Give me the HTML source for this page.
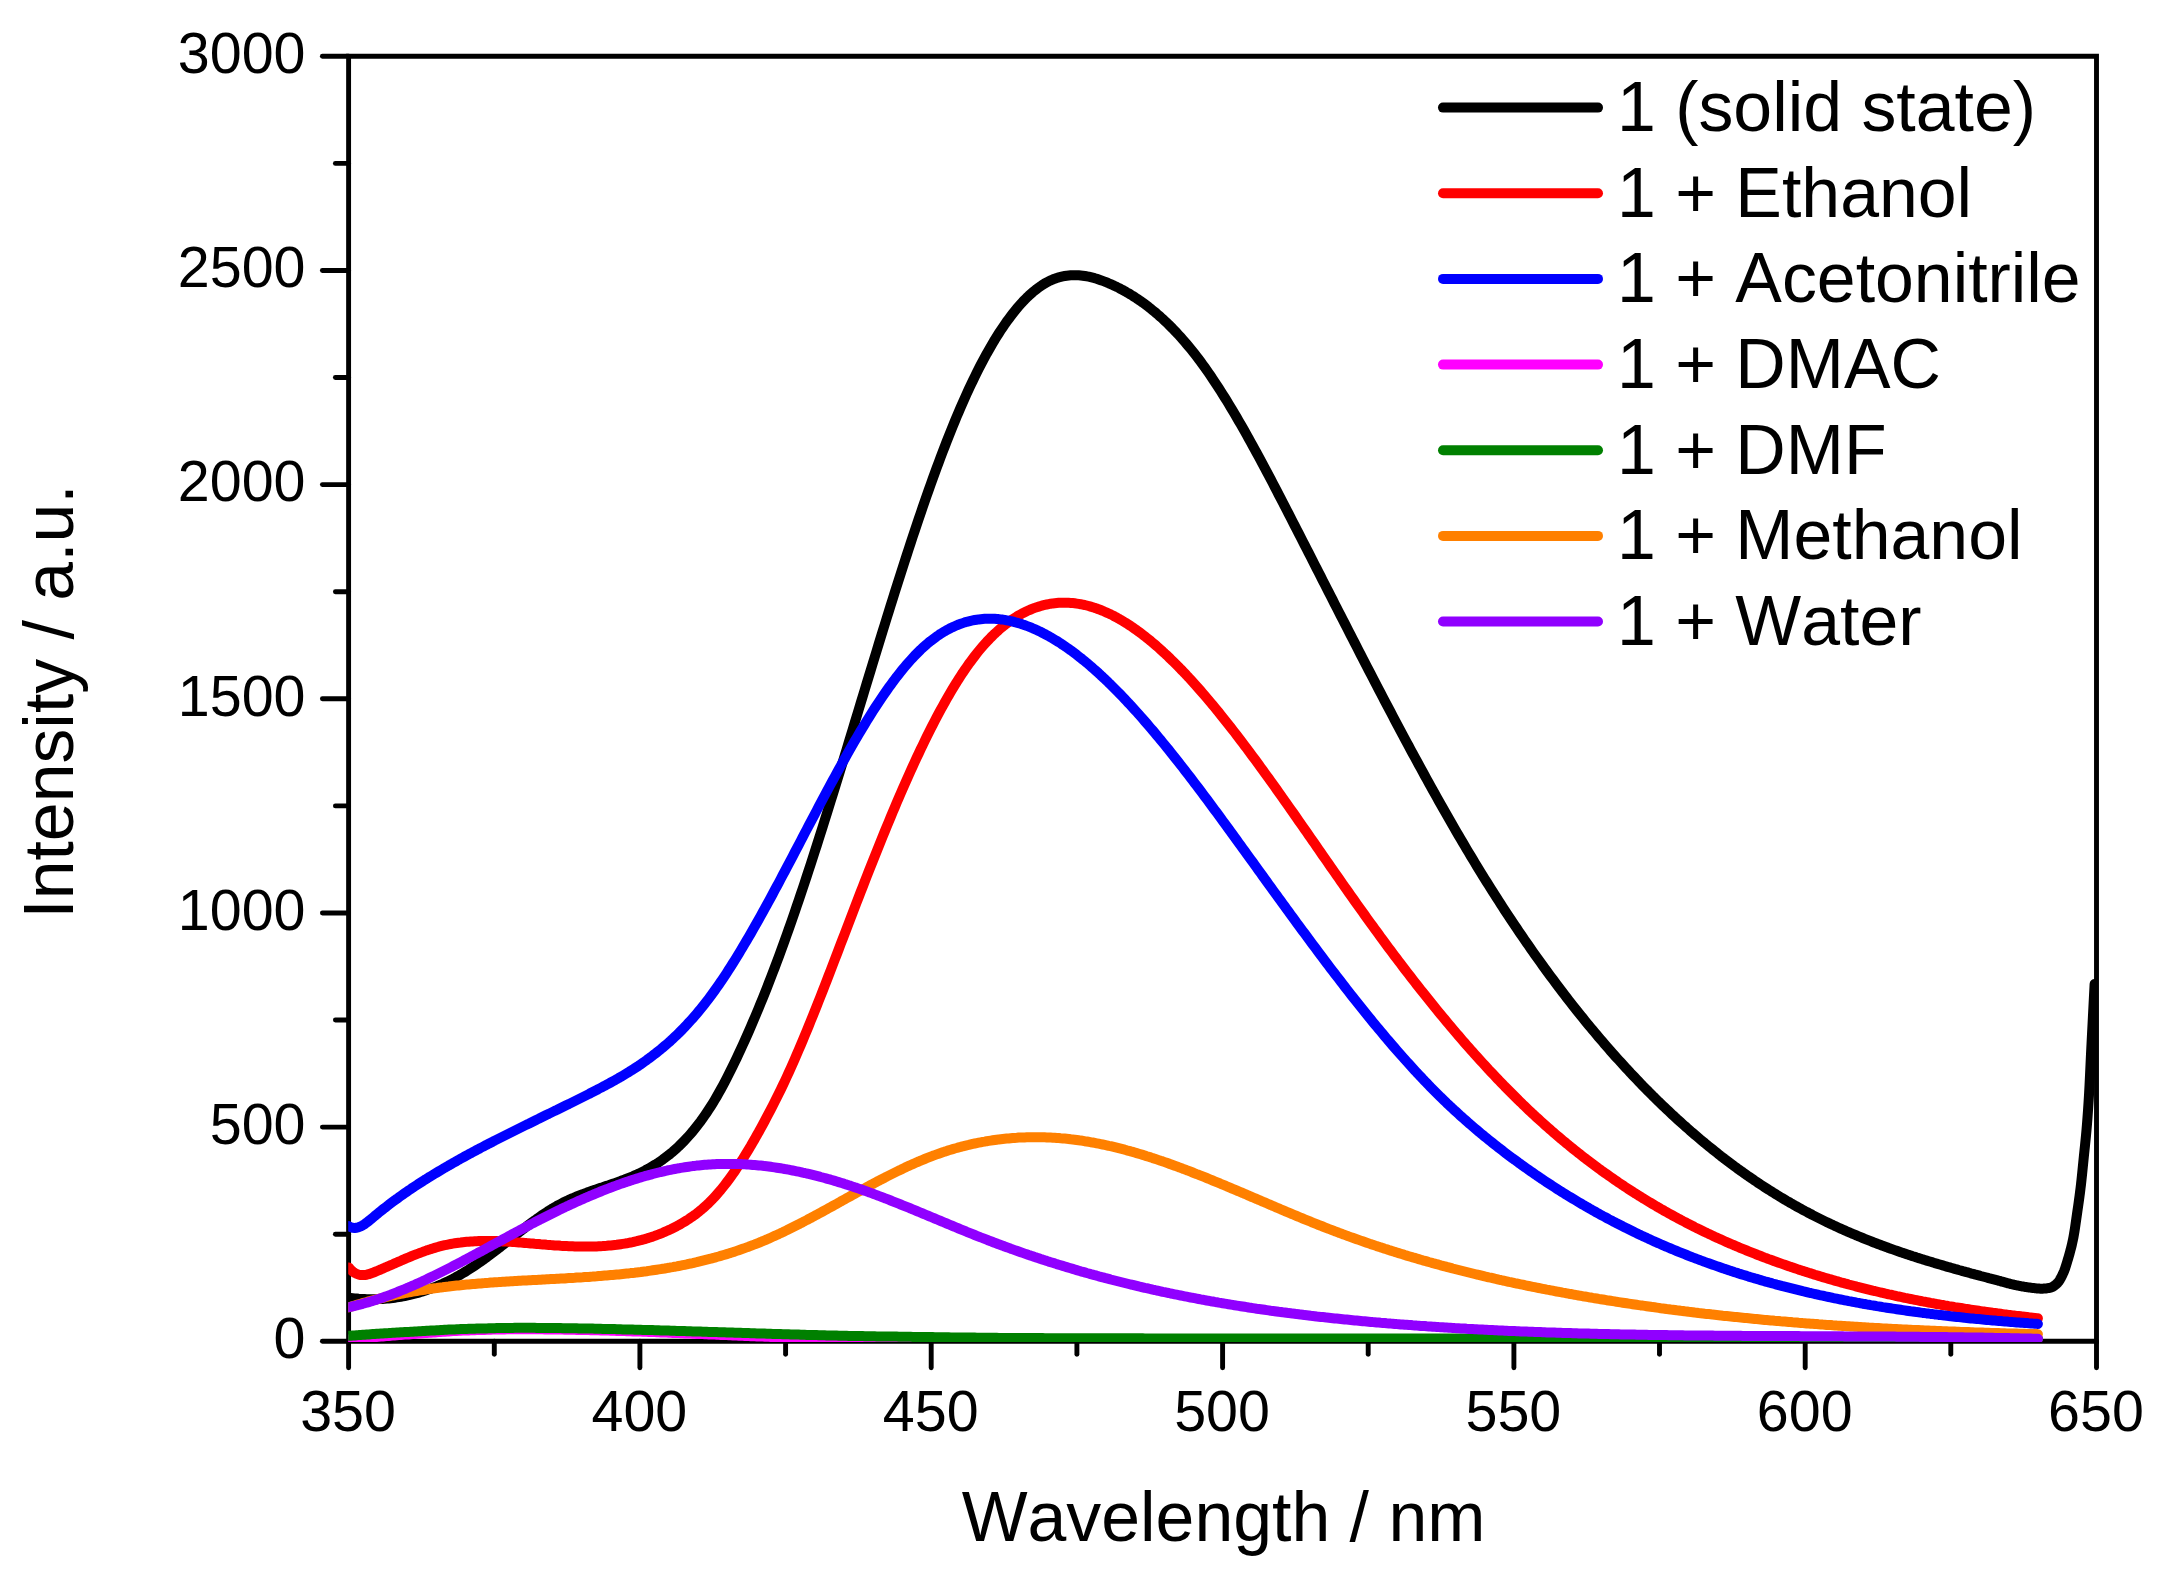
<!DOCTYPE html>
<html lang="en"><head><meta charset="utf-8"><title>Emission spectra</title>
<style>html,body{margin:0;padding:0;background:#fff}svg{display:block}text{font-family:"Liberation Sans",Arial,Helvetica,sans-serif;fill:#000;font-kerning:none}</style></head>
<body>
<svg width="2158" height="1580" viewBox="0 0 2158 1580">
<rect width="2158" height="1580" fill="#fff"/>
<g stroke="#000" stroke-width="4.9" stroke-linecap="round" fill="none">
<path d="M348.6 56.3 L2096.5 56.3 L2096.5 1341.3 L348.6 1341.3 Z" stroke-linejoin="miter"/>
<line x1="348.6" y1="1341.3" x2="322.4" y2="1341.3"/>
<line x1="348.6" y1="1234.2" x2="335.4" y2="1234.2"/>
<line x1="348.6" y1="1127.1" x2="322.4" y2="1127.1"/>
<line x1="348.6" y1="1020.0" x2="335.4" y2="1020.0"/>
<line x1="348.6" y1="913.0" x2="322.4" y2="913.0"/>
<line x1="348.6" y1="805.9" x2="335.4" y2="805.9"/>
<line x1="348.6" y1="698.8" x2="322.4" y2="698.8"/>
<line x1="348.6" y1="591.7" x2="335.4" y2="591.7"/>
<line x1="348.6" y1="484.6" x2="322.4" y2="484.6"/>
<line x1="348.6" y1="377.5" x2="335.4" y2="377.5"/>
<line x1="348.6" y1="270.5" x2="322.4" y2="270.5"/>
<line x1="348.6" y1="163.4" x2="335.4" y2="163.4"/>
<line x1="348.6" y1="56.3" x2="322.4" y2="56.3"/>
<line x1="348.6" y1="1341.3" x2="348.6" y2="1367.8"/>
<line x1="494.3" y1="1341.3" x2="494.3" y2="1354.3"/>
<line x1="639.9" y1="1341.3" x2="639.9" y2="1367.8"/>
<line x1="785.6" y1="1341.3" x2="785.6" y2="1354.3"/>
<line x1="931.2" y1="1341.3" x2="931.2" y2="1367.8"/>
<line x1="1076.9" y1="1341.3" x2="1076.9" y2="1354.3"/>
<line x1="1222.6" y1="1341.3" x2="1222.6" y2="1367.8"/>
<line x1="1368.2" y1="1341.3" x2="1368.2" y2="1354.3"/>
<line x1="1513.9" y1="1341.3" x2="1513.9" y2="1367.8"/>
<line x1="1659.5" y1="1341.3" x2="1659.5" y2="1354.3"/>
<line x1="1805.2" y1="1341.3" x2="1805.2" y2="1367.8"/>
<line x1="1950.8" y1="1341.3" x2="1950.8" y2="1354.3"/>
<line x1="2096.5" y1="1341.3" x2="2096.5" y2="1367.8"/>
</g>
<defs><clipPath id="plotclip"><rect x="348.2" y="55.7" width="1748.8" height="1286.3"/></clipPath></defs>
<g fill="none" stroke-width="10" stroke-linecap="round" stroke-linejoin="round" clip-path="url(#plotclip)">
<path stroke="#000000" d="M348.7 1297.8 L350.7 1298.0 L352.7 1298.2 L354.7 1298.4 L356.7 1298.6 L358.7 1298.8 L360.7 1298.9 L362.7 1299.0 L364.7 1299.1 L366.7 1299.2 L368.7 1299.2 L370.7 1299.2 L372.7 1299.2 L374.7 1299.2 L376.7 1299.2 L378.7 1299.1 L380.7 1299.0 L382.7 1298.9 L384.7 1298.8 L386.7 1298.6 L388.7 1298.4 L390.7 1298.2 L392.7 1298.0 L394.7 1297.7 L396.7 1297.4 L398.7 1297.1 L400.7 1296.8 L402.7 1296.4 L404.7 1296.0 L406.7 1295.6 L408.7 1295.2 L410.7 1294.7 L412.7 1294.2 L414.7 1293.7 L416.7 1293.2 L418.7 1292.6 L420.7 1292.0 L422.7 1291.4 L424.7 1290.8 L426.7 1290.1 L428.7 1289.4 L430.7 1288.7 L432.7 1287.9 L434.7 1287.1 L436.7 1286.3 L438.7 1285.5 L440.7 1284.6 L442.7 1283.8 L444.7 1282.8 L446.7 1281.9 L448.7 1280.9 L450.7 1279.9 L452.7 1278.9 L454.7 1277.8 L456.7 1276.7 L458.7 1275.6 L460.7 1274.5 L462.7 1273.3 L464.7 1272.1 L466.7 1270.9 L468.7 1269.6 L470.7 1268.3 L472.7 1267.0 L474.7 1265.7 L476.7 1264.4 L478.7 1263.0 L480.7 1261.6 L482.7 1260.2 L484.7 1258.7 L486.7 1257.3 L488.7 1255.8 L490.7 1254.3 L492.7 1252.8 L494.7 1251.3 L496.7 1249.8 L498.7 1248.2 L500.7 1246.7 L502.7 1245.1 L504.7 1243.5 L506.7 1242.0 L508.7 1240.4 L510.7 1238.8 L512.7 1237.2 L514.7 1235.7 L516.7 1234.1 L518.7 1232.5 L520.7 1231.0 L522.7 1229.4 L524.7 1227.9 L526.7 1226.3 L528.7 1224.8 L530.7 1223.3 L532.7 1221.8 L534.7 1220.4 L536.7 1218.9 L538.7 1217.5 L540.7 1216.1 L542.7 1214.7 L544.7 1213.4 L546.7 1212.1 L548.7 1210.8 L550.7 1209.6 L552.7 1208.3 L554.7 1207.2 L556.7 1206.0 L558.7 1204.9 L560.7 1203.9 L562.7 1202.8 L564.7 1201.8 L566.7 1200.9 L568.7 1199.9 L570.7 1199.0 L572.7 1198.2 L574.7 1197.3 L576.7 1196.5 L578.7 1195.7 L580.7 1194.9 L582.7 1194.1 L584.7 1193.4 L586.7 1192.7 L588.7 1191.9 L590.7 1191.2 L592.7 1190.5 L594.7 1189.9 L596.7 1189.2 L598.7 1188.5 L600.7 1187.8 L602.7 1187.2 L604.7 1186.5 L606.7 1185.8 L608.7 1185.2 L610.7 1184.5 L612.7 1183.8 L614.7 1183.1 L616.7 1182.4 L618.7 1181.7 L620.7 1181.0 L622.7 1180.2 L624.7 1179.5 L626.7 1178.7 L628.7 1177.9 L630.7 1177.1 L632.7 1176.3 L634.7 1175.4 L636.7 1174.5 L638.7 1173.6 L640.7 1172.6 L642.7 1171.6 L644.7 1170.6 L646.7 1169.5 L648.7 1168.5 L650.7 1167.3 L652.7 1166.1 L654.7 1164.9 L656.7 1163.7 L658.7 1162.4 L660.7 1161.0 L662.7 1159.6 L664.7 1158.1 L666.7 1156.6 L668.7 1155.1 L670.7 1153.4 L672.7 1151.8 L674.7 1150.0 L676.7 1148.2 L678.7 1146.4 L680.7 1144.4 L682.7 1142.4 L684.7 1140.4 L686.7 1138.2 L688.7 1136.0 L690.7 1133.7 L692.7 1131.4 L694.7 1128.9 L696.7 1126.4 L698.7 1123.8 L700.7 1121.2 L702.7 1118.4 L704.7 1115.5 L706.7 1112.6 L708.7 1109.6 L710.7 1106.5 L712.7 1103.3 L714.7 1100.0 L716.7 1096.6 L718.7 1093.1 L720.7 1089.5 L722.7 1085.8 L724.7 1082.1 L726.7 1078.2 L728.7 1074.3 L730.7 1070.3 L732.7 1066.3 L734.7 1062.1 L736.7 1058.0 L738.7 1053.7 L740.7 1049.4 L742.7 1045.0 L744.7 1040.6 L746.7 1036.1 L748.7 1031.6 L750.7 1027.0 L752.7 1022.3 L754.7 1017.6 L756.7 1012.9 L758.7 1008.1 L760.7 1003.2 L762.7 998.3 L764.7 993.3 L766.7 988.3 L768.7 983.2 L770.7 978.0 L772.7 972.8 L774.7 967.6 L776.7 962.3 L778.7 956.9 L780.7 951.5 L782.7 946.0 L784.7 940.5 L786.7 934.9 L788.7 929.3 L790.7 923.6 L792.7 917.9 L794.7 912.1 L796.7 906.2 L798.7 900.4 L800.7 894.4 L802.7 888.5 L804.7 882.5 L806.7 876.4 L808.7 870.3 L810.7 864.2 L812.7 858.0 L814.7 851.8 L816.7 845.6 L818.7 839.3 L820.7 833.0 L822.7 826.7 L824.7 820.3 L826.7 813.9 L828.7 807.5 L830.7 801.1 L832.7 794.7 L834.7 788.2 L836.7 781.7 L838.7 775.2 L840.7 768.7 L842.7 762.2 L844.7 755.6 L846.7 749.1 L848.7 742.5 L850.7 735.9 L852.7 729.4 L854.7 722.8 L856.7 716.2 L858.7 709.6 L860.7 703.0 L862.7 696.5 L864.7 689.9 L866.7 683.3 L868.7 676.7 L870.7 670.2 L872.7 663.6 L874.7 657.1 L876.7 650.6 L878.7 644.0 L880.7 637.5 L882.7 631.1 L884.7 624.6 L886.7 618.1 L888.7 611.7 L890.7 605.3 L892.7 598.9 L894.7 592.6 L896.7 586.3 L898.7 580.0 L900.7 573.7 L902.7 567.5 L904.7 561.3 L906.7 555.1 L908.7 549.0 L910.7 542.9 L912.7 536.8 L914.7 530.8 L916.7 524.9 L918.7 518.9 L920.7 513.1 L922.7 507.2 L924.7 501.4 L926.7 495.7 L928.7 490.0 L930.7 484.4 L932.7 478.8 L934.7 473.3 L936.7 467.8 L938.7 462.4 L940.7 457.1 L942.7 451.8 L944.7 446.6 L946.7 441.4 L948.7 436.3 L950.7 431.3 L952.7 426.4 L954.7 421.5 L956.7 416.7 L958.7 412.0 L960.7 407.3 L962.7 402.7 L964.7 398.2 L966.7 393.8 L968.7 389.4 L970.7 385.2 L972.7 381.0 L974.7 376.8 L976.7 372.8 L978.7 368.8 L980.7 364.9 L982.7 361.1 L984.7 357.4 L986.7 353.7 L988.7 350.2 L990.7 346.7 L992.7 343.3 L994.7 339.9 L996.7 336.7 L998.7 333.5 L1000.7 330.4 L1002.7 327.4 L1004.7 324.5 L1006.7 321.6 L1008.7 318.9 L1010.7 316.2 L1012.7 313.6 L1014.7 311.1 L1016.7 308.6 L1018.7 306.3 L1020.7 304.0 L1022.7 301.8 L1024.7 299.7 L1026.7 297.7 L1028.7 295.8 L1030.7 294.0 L1032.7 292.2 L1034.7 290.6 L1036.7 289.0 L1038.7 287.5 L1040.7 286.1 L1042.7 284.8 L1044.7 283.5 L1046.7 282.4 L1048.7 281.3 L1050.7 280.4 L1052.7 279.5 L1054.7 278.7 L1056.7 278.0 L1058.7 277.4 L1060.7 276.9 L1062.7 276.4 L1064.7 276.0 L1066.7 275.7 L1068.7 275.5 L1070.7 275.3 L1072.7 275.2 L1074.7 275.2 L1076.7 275.2 L1078.7 275.3 L1080.7 275.5 L1082.7 275.7 L1084.7 276.0 L1086.7 276.3 L1088.7 276.7 L1090.7 277.2 L1092.7 277.7 L1094.7 278.2 L1096.7 278.8 L1098.7 279.5 L1100.7 280.2 L1102.7 280.9 L1104.7 281.6 L1106.7 282.4 L1108.7 283.3 L1110.7 284.1 L1112.7 285.0 L1114.7 286.0 L1116.7 286.9 L1118.7 287.9 L1120.7 289.0 L1122.7 290.0 L1124.7 291.1 L1126.7 292.3 L1128.7 293.4 L1130.7 294.6 L1132.7 295.9 L1134.7 297.1 L1136.7 298.5 L1138.7 299.8 L1140.7 301.2 L1142.7 302.6 L1144.7 304.1 L1146.7 305.6 L1148.7 307.1 L1150.7 308.7 L1152.7 310.3 L1154.7 311.9 L1156.7 313.6 L1158.7 315.4 L1160.7 317.1 L1162.7 318.9 L1164.7 320.8 L1166.7 322.7 L1168.7 324.6 L1170.7 326.6 L1172.7 328.6 L1174.7 330.7 L1176.7 332.8 L1178.7 335.0 L1180.7 337.2 L1182.7 339.5 L1184.7 341.8 L1186.7 344.1 L1188.7 346.5 L1190.7 348.9 L1192.7 351.4 L1194.7 353.9 L1196.7 356.5 L1198.7 359.1 L1200.7 361.8 L1202.7 364.6 L1204.7 367.3 L1206.7 370.1 L1208.7 373.0 L1210.7 375.9 L1212.7 378.9 L1214.7 381.9 L1216.7 384.9 L1218.7 388.0 L1220.7 391.1 L1222.7 394.3 L1224.7 397.5 L1226.7 400.7 L1228.7 404.0 L1230.7 407.3 L1232.7 410.6 L1234.7 414.0 L1236.7 417.4 L1238.7 420.9 L1240.7 424.3 L1242.7 427.8 L1244.7 431.3 L1246.7 434.9 L1248.7 438.5 L1250.7 442.1 L1252.7 445.7 L1254.7 449.4 L1256.7 453.0 L1258.7 456.7 L1260.7 460.4 L1262.7 464.2 L1264.7 467.9 L1266.7 471.7 L1268.7 475.4 L1270.7 479.2 L1272.7 483.0 L1274.7 486.9 L1276.7 490.7 L1278.7 494.6 L1280.7 498.4 L1282.7 502.3 L1284.7 506.1 L1286.7 510.0 L1288.7 513.9 L1290.7 517.8 L1292.7 521.7 L1294.7 525.6 L1296.7 529.5 L1298.7 533.4 L1300.7 537.3 L1302.7 541.2 L1304.7 545.1 L1306.7 549.0 L1308.7 552.9 L1310.7 556.8 L1312.7 560.8 L1314.7 564.7 L1316.7 568.6 L1318.7 572.5 L1320.7 576.4 L1322.7 580.4 L1324.7 584.3 L1326.7 588.2 L1328.7 592.1 L1330.7 596.0 L1332.7 599.9 L1334.7 603.9 L1336.7 607.8 L1338.7 611.7 L1340.7 615.6 L1342.7 619.5 L1344.7 623.4 L1346.7 627.3 L1348.7 631.2 L1350.7 635.1 L1352.7 639.0 L1354.7 642.9 L1356.7 646.8 L1358.7 650.7 L1360.7 654.6 L1362.7 658.5 L1364.7 662.3 L1366.7 666.2 L1368.7 670.1 L1370.7 673.9 L1372.7 677.8 L1374.7 681.6 L1376.7 685.5 L1378.7 689.3 L1380.7 693.1 L1382.7 697.0 L1384.7 700.8 L1386.7 704.6 L1388.7 708.4 L1390.7 712.2 L1392.7 716.0 L1394.7 719.8 L1396.7 723.6 L1398.7 727.3 L1400.7 731.1 L1402.7 734.8 L1404.7 738.6 L1406.7 742.3 L1408.7 746.0 L1410.7 749.8 L1412.7 753.5 L1414.7 757.2 L1416.7 760.8 L1418.7 764.5 L1420.7 768.2 L1422.7 771.8 L1424.7 775.5 L1426.7 779.1 L1428.7 782.7 L1430.7 786.4 L1432.7 790.0 L1434.7 793.5 L1436.7 797.1 L1438.7 800.7 L1440.7 804.2 L1442.7 807.8 L1444.7 811.3 L1446.7 814.8 L1448.7 818.3 L1450.7 821.8 L1452.7 825.3 L1454.7 828.7 L1456.7 832.2 L1458.7 835.6 L1460.7 839.0 L1462.7 842.4 L1464.7 845.8 L1466.7 849.2 L1468.7 852.5 L1470.7 855.9 L1472.7 859.2 L1474.7 862.5 L1476.7 865.8 L1478.7 869.1 L1480.7 872.3 L1482.7 875.6 L1484.7 878.8 L1486.7 882.0 L1488.7 885.2 L1490.7 888.4 L1492.7 891.5 L1494.7 894.7 L1496.7 897.8 L1498.7 900.9 L1500.7 904.0 L1502.7 907.1 L1504.7 910.2 L1506.7 913.2 L1508.7 916.2 L1510.7 919.3 L1512.7 922.3 L1514.7 925.3 L1516.7 928.2 L1518.7 931.2 L1520.7 934.1 L1522.7 937.1 L1524.7 940.0 L1526.7 942.9 L1528.7 945.7 L1530.7 948.6 L1532.7 951.5 L1534.7 954.3 L1536.7 957.1 L1538.7 959.9 L1540.7 962.7 L1542.7 965.5 L1544.7 968.2 L1546.7 971.0 L1548.7 973.7 L1550.7 976.4 L1552.7 979.1 L1554.7 981.8 L1556.7 984.5 L1558.7 987.1 L1560.7 989.8 L1562.7 992.4 L1564.7 995.0 L1566.7 997.6 L1568.7 1000.2 L1570.7 1002.8 L1572.7 1005.3 L1574.7 1007.8 L1576.7 1010.4 L1578.7 1012.9 L1580.7 1015.4 L1582.7 1017.8 L1584.7 1020.3 L1586.7 1022.8 L1588.7 1025.2 L1590.7 1027.6 L1592.7 1030.0 L1594.7 1032.4 L1596.7 1034.8 L1598.7 1037.2 L1600.7 1039.5 L1602.7 1041.8 L1604.7 1044.2 L1606.7 1046.5 L1608.7 1048.8 L1610.7 1051.1 L1612.7 1053.3 L1614.7 1055.6 L1616.7 1057.8 L1618.7 1060.0 L1620.7 1062.2 L1622.7 1064.4 L1624.7 1066.6 L1626.7 1068.8 L1628.7 1070.9 L1630.7 1073.1 L1632.7 1075.2 L1634.7 1077.3 L1636.7 1079.4 L1638.7 1081.5 L1640.7 1083.6 L1642.7 1085.7 L1644.7 1087.7 L1646.7 1089.7 L1648.7 1091.8 L1650.7 1093.8 L1652.7 1095.8 L1654.7 1097.7 L1656.7 1099.7 L1658.7 1101.7 L1660.7 1103.6 L1662.7 1105.5 L1664.7 1107.4 L1666.7 1109.3 L1668.7 1111.2 L1670.7 1113.1 L1672.7 1115.0 L1674.7 1116.8 L1676.7 1118.7 L1678.7 1120.5 L1680.7 1122.3 L1682.7 1124.1 L1684.7 1125.9 L1686.7 1127.6 L1688.7 1129.4 L1690.7 1131.2 L1692.7 1132.9 L1694.7 1134.6 L1696.7 1136.3 L1698.7 1138.0 L1700.7 1139.7 L1702.7 1141.4 L1704.7 1143.0 L1706.7 1144.7 L1708.7 1146.3 L1710.7 1147.9 L1712.7 1149.5 L1714.7 1151.1 L1716.7 1152.7 L1718.7 1154.3 L1720.7 1155.9 L1722.7 1157.4 L1724.7 1159.0 L1726.7 1160.5 L1728.7 1162.0 L1730.7 1163.5 L1732.7 1165.0 L1734.7 1166.5 L1736.7 1167.9 L1738.7 1169.4 L1740.7 1170.8 L1742.7 1172.2 L1744.7 1173.7 L1746.7 1175.1 L1748.7 1176.5 L1750.7 1177.8 L1752.7 1179.2 L1754.7 1180.6 L1756.7 1181.9 L1758.7 1183.3 L1760.7 1184.6 L1762.7 1185.9 L1764.7 1187.2 L1766.7 1188.5 L1768.7 1189.8 L1770.7 1191.0 L1772.7 1192.3 L1774.7 1193.5 L1776.7 1194.8 L1778.7 1196.0 L1780.7 1197.2 L1782.7 1198.4 L1784.7 1199.6 L1786.7 1200.8 L1788.7 1201.9 L1790.7 1203.1 L1792.7 1204.2 L1794.7 1205.4 L1796.7 1206.5 L1798.7 1207.6 L1800.7 1208.7 L1802.7 1209.8 L1804.7 1210.9 L1806.7 1211.9 L1808.7 1213.0 L1810.7 1214.0 L1812.7 1215.1 L1814.7 1216.1 L1816.7 1217.1 L1818.7 1218.1 L1820.7 1219.1 L1822.7 1220.1 L1824.7 1221.1 L1826.7 1222.1 L1828.7 1223.0 L1830.7 1224.0 L1832.7 1224.9 L1834.7 1225.9 L1836.7 1226.8 L1838.7 1227.7 L1840.7 1228.6 L1842.7 1229.5 L1844.7 1230.4 L1846.7 1231.3 L1848.7 1232.1 L1850.7 1233.0 L1852.7 1233.9 L1854.7 1234.7 L1856.7 1235.5 L1858.7 1236.4 L1860.7 1237.2 L1862.7 1238.0 L1864.7 1238.8 L1866.7 1239.6 L1868.7 1240.4 L1870.7 1241.2 L1872.7 1242.0 L1874.7 1242.8 L1876.7 1243.5 L1878.7 1244.3 L1880.7 1245.0 L1882.7 1245.8 L1884.7 1246.5 L1886.7 1247.2 L1888.7 1248.0 L1890.7 1248.7 L1892.7 1249.4 L1894.7 1250.1 L1896.7 1250.8 L1898.7 1251.5 L1900.7 1252.2 L1902.7 1252.9 L1904.7 1253.5 L1906.7 1254.2 L1908.7 1254.9 L1910.7 1255.5 L1912.7 1256.2 L1914.7 1256.8 L1916.7 1257.5 L1918.7 1258.1 L1920.7 1258.7 L1922.7 1259.4 L1924.7 1260.0 L1926.7 1260.6 L1928.7 1261.2 L1930.7 1261.8 L1932.7 1262.4 L1934.7 1263.1 L1936.7 1263.6 L1938.7 1264.2 L1940.7 1264.8 L1942.7 1265.4 L1944.7 1266.0 L1946.7 1266.6 L1948.7 1267.2 L1950.7 1267.7 L1952.7 1268.3 L1954.7 1268.9 L1956.7 1269.4 L1958.7 1270.0 L1960.7 1270.5 L1962.7 1271.1 L1964.7 1271.6 L1966.7 1272.2 L1968.7 1272.7 L1970.7 1273.3 L1972.7 1273.8 L1974.7 1274.4 L1976.7 1274.9 L1978.7 1275.4 L1980.7 1276.0 L1982.7 1276.5 L1984.7 1277.0 L1986.7 1277.5 L1988.7 1278.1 L1990.7 1278.6 L1992.7 1279.1 L1994.7 1279.6 L1996.0 1280.0 L1996.5 1280.1 L1997.0 1280.2 L1997.5 1280.4 L1998.0 1280.5 L1998.5 1280.6 L1999.0 1280.8 L1999.5 1280.9 L2000.0 1281.0 L2000.5 1281.2 L2001.0 1281.3 L2001.5 1281.5 L2002.0 1281.6 L2002.5 1281.7 L2003.0 1281.9 L2003.5 1282.0 L2004.0 1282.2 L2004.5 1282.3 L2005.0 1282.4 L2005.5 1282.6 L2006.0 1282.7 L2006.5 1282.9 L2007.0 1283.0 L2007.5 1283.1 L2008.0 1283.3 L2008.5 1283.4 L2009.0 1283.5 L2009.5 1283.7 L2010.0 1283.8 L2010.5 1283.9 L2011.0 1284.1 L2011.5 1284.2 L2012.0 1284.3 L2012.5 1284.4 L2013.0 1284.5 L2013.5 1284.7 L2014.0 1284.8 L2014.5 1284.9 L2015.0 1285.0 L2015.5 1285.1 L2016.0 1285.2 L2016.5 1285.3 L2017.0 1285.4 L2017.5 1285.5 L2018.0 1285.6 L2018.5 1285.7 L2019.0 1285.8 L2019.5 1285.9 L2020.0 1286.0 L2020.5 1286.1 L2021.0 1286.2 L2021.5 1286.3 L2022.0 1286.4 L2022.5 1286.5 L2023.0 1286.5 L2023.5 1286.6 L2024.0 1286.7 L2024.5 1286.8 L2025.0 1286.9 L2025.5 1287.0 L2026.0 1287.0 L2026.5 1287.1 L2027.0 1287.2 L2027.5 1287.3 L2028.0 1287.3 L2028.5 1287.4 L2029.0 1287.5 L2029.5 1287.5 L2030.0 1287.6 L2030.5 1287.7 L2031.0 1287.7 L2031.5 1287.8 L2032.0 1287.9 L2032.5 1287.9 L2033.0 1288.0 L2033.5 1288.0 L2034.0 1288.1 L2034.5 1288.2 L2035.0 1288.2 L2035.5 1288.3 L2036.0 1288.3 L2036.5 1288.4 L2037.0 1288.4 L2037.5 1288.5 L2038.0 1288.5 L2038.5 1288.6 L2039.0 1288.6 L2039.5 1288.6 L2040.0 1288.7 L2040.5 1288.7 L2041.0 1288.7 L2041.5 1288.7 L2042.0 1288.7 L2042.5 1288.7 L2043.0 1288.7 L2043.5 1288.6 L2044.0 1288.6 L2044.5 1288.6 L2045.0 1288.5 L2045.5 1288.5 L2046.0 1288.4 L2046.5 1288.4 L2047.0 1288.3 L2047.5 1288.2 L2048.0 1288.1 L2048.5 1288.1 L2049.0 1288.0 L2049.5 1287.9 L2050.0 1287.8 L2050.5 1287.7 L2051.0 1287.5 L2051.5 1287.3 L2052.0 1287.1 L2052.5 1286.9 L2053.0 1286.6 L2053.5 1286.3 L2054.0 1285.9 L2054.5 1285.6 L2055.0 1285.2 L2055.5 1284.8 L2056.0 1284.4 L2056.5 1283.9 L2057.0 1283.5 L2057.5 1283.0 L2058.0 1282.4 L2058.5 1281.8 L2059.0 1281.1 L2059.5 1280.3 L2060.0 1279.5 L2060.5 1278.6 L2061.0 1277.7 L2061.5 1276.7 L2062.0 1275.7 L2062.5 1274.7 L2063.0 1273.6 L2063.5 1272.6 L2064.0 1271.4 L2064.5 1270.1 L2065.0 1268.7 L2065.5 1267.2 L2066.0 1265.7 L2066.5 1264.1 L2067.0 1262.4 L2067.5 1260.7 L2068.0 1259.0 L2068.5 1257.3 L2069.0 1255.6 L2069.5 1253.8 L2070.0 1252.0 L2070.5 1250.1 L2071.0 1248.2 L2071.5 1246.2 L2072.0 1244.1 L2072.5 1241.8 L2073.0 1239.5 L2073.5 1237.0 L2074.0 1234.2 L2074.5 1231.1 L2075.0 1227.9 L2075.5 1224.5 L2076.0 1221.0 L2076.5 1217.5 L2077.0 1214.0 L2077.5 1210.6 L2078.0 1207.1 L2078.5 1203.6 L2079.0 1200.0 L2079.5 1196.3 L2080.0 1192.5 L2080.5 1188.5 L2081.0 1184.3 L2081.5 1179.8 L2082.0 1175.0 L2082.5 1170.1 L2083.0 1165.0 L2083.5 1160.0 L2084.0 1155.0 L2084.5 1150.2 L2085.0 1145.5 L2085.5 1140.6 L2086.0 1135.5 L2086.5 1130.0 L2087.0 1124.0 L2087.5 1117.5 L2088.0 1110.5 L2088.5 1103.0 L2089.0 1095.0 L2089.5 1085.8 L2090.0 1075.5 L2090.5 1064.7 L2091.0 1054.1 L2091.5 1044.1 L2092.0 1034.3 L2092.5 1024.7 L2093.0 1015.0 L2093.5 1005.3 L2094.0 995.6 L2094.5 985.9 L2094.6 984.0"/>
<path stroke="#ff0000" d="M348.7 1267.4 L350.7 1269.7 L352.7 1271.5 L354.7 1272.9 L356.7 1273.9 L358.7 1274.6 L360.7 1275.0 L362.7 1275.1 L364.7 1275.0 L366.7 1274.7 L368.7 1274.2 L370.7 1273.5 L372.7 1272.8 L374.7 1272.0 L376.7 1271.2 L378.7 1270.3 L380.7 1269.5 L382.7 1268.6 L384.7 1267.7 L386.7 1266.9 L388.7 1266.0 L390.7 1265.1 L392.7 1264.3 L394.7 1263.4 L396.7 1262.5 L398.7 1261.6 L400.7 1260.8 L402.7 1259.9 L404.7 1259.0 L406.7 1258.2 L408.7 1257.4 L410.7 1256.5 L412.7 1255.7 L414.7 1254.9 L416.7 1254.1 L418.7 1253.4 L420.7 1252.6 L422.7 1251.9 L424.7 1251.1 L426.7 1250.4 L428.7 1249.8 L430.7 1249.1 L432.7 1248.5 L434.7 1247.9 L436.7 1247.3 L438.7 1246.7 L440.7 1246.2 L442.7 1245.7 L444.7 1245.2 L446.7 1244.8 L448.7 1244.4 L450.7 1244.0 L452.7 1243.6 L454.7 1243.3 L456.7 1243.0 L458.7 1242.7 L460.7 1242.5 L462.7 1242.2 L464.7 1242.0 L466.7 1241.8 L468.7 1241.7 L470.7 1241.5 L472.7 1241.4 L474.7 1241.3 L476.7 1241.2 L478.7 1241.1 L480.7 1241.0 L482.7 1241.0 L484.7 1241.0 L486.7 1241.0 L488.7 1241.0 L490.7 1241.0 L492.7 1241.0 L494.7 1241.1 L496.7 1241.1 L498.7 1241.2 L500.7 1241.3 L502.7 1241.4 L504.7 1241.5 L506.7 1241.6 L508.7 1241.7 L510.7 1241.8 L512.7 1242.0 L514.7 1242.1 L516.7 1242.3 L518.7 1242.4 L520.7 1242.6 L522.7 1242.7 L524.7 1242.9 L526.7 1243.1 L528.7 1243.2 L530.7 1243.4 L532.7 1243.6 L534.7 1243.8 L536.7 1243.9 L538.7 1244.1 L540.7 1244.3 L542.7 1244.4 L544.7 1244.6 L546.7 1244.8 L548.7 1244.9 L550.7 1245.1 L552.7 1245.2 L554.7 1245.4 L556.7 1245.5 L558.7 1245.6 L560.7 1245.8 L562.7 1245.9 L564.7 1246.0 L566.7 1246.1 L568.7 1246.2 L570.7 1246.3 L572.7 1246.3 L574.7 1246.4 L576.7 1246.5 L578.7 1246.5 L580.7 1246.6 L582.7 1246.6 L584.7 1246.6 L586.7 1246.6 L588.7 1246.6 L590.7 1246.5 L592.7 1246.5 L594.7 1246.5 L596.7 1246.4 L598.7 1246.3 L600.7 1246.2 L602.7 1246.1 L604.7 1245.9 L606.7 1245.8 L608.7 1245.6 L610.7 1245.4 L612.7 1245.2 L614.7 1245.0 L616.7 1244.8 L618.7 1244.5 L620.7 1244.2 L622.7 1243.9 L624.7 1243.6 L626.7 1243.3 L628.7 1242.9 L630.7 1242.5 L632.7 1242.1 L634.7 1241.6 L636.7 1241.2 L638.7 1240.7 L640.7 1240.2 L642.7 1239.6 L644.7 1239.1 L646.7 1238.5 L648.7 1237.9 L650.7 1237.2 L652.7 1236.6 L654.7 1235.9 L656.7 1235.1 L658.7 1234.4 L660.7 1233.6 L662.7 1232.8 L664.7 1231.9 L666.7 1231.0 L668.7 1230.1 L670.7 1229.2 L672.7 1228.2 L674.7 1227.2 L676.7 1226.2 L678.7 1225.1 L680.7 1224.0 L682.7 1222.8 L684.7 1221.6 L686.7 1220.4 L688.7 1219.1 L690.7 1217.7 L692.7 1216.3 L694.7 1214.9 L696.7 1213.4 L698.7 1211.8 L700.7 1210.2 L702.7 1208.5 L704.7 1206.7 L706.7 1204.9 L708.7 1203.0 L710.7 1201.0 L712.7 1199.0 L714.7 1196.8 L716.7 1194.6 L718.7 1192.3 L720.7 1190.0 L722.7 1187.5 L724.7 1185.0 L726.7 1182.4 L728.7 1179.7 L730.7 1177.0 L732.7 1174.2 L734.7 1171.3 L736.7 1168.3 L738.7 1165.3 L740.7 1162.2 L742.7 1159.1 L744.7 1155.9 L746.7 1152.6 L748.7 1149.3 L750.7 1146.0 L752.7 1142.5 L754.7 1139.1 L756.7 1135.5 L758.7 1132.0 L760.7 1128.3 L762.7 1124.7 L764.7 1121.0 L766.7 1117.2 L768.7 1113.4 L770.7 1109.6 L772.7 1105.7 L774.7 1101.8 L776.7 1097.8 L778.7 1093.8 L780.7 1089.7 L782.7 1085.5 L784.7 1081.3 L786.7 1077.0 L788.7 1072.6 L790.7 1068.2 L792.7 1063.7 L794.7 1059.2 L796.7 1054.6 L798.7 1049.9 L800.7 1045.2 L802.7 1040.5 L804.7 1035.7 L806.7 1030.8 L808.7 1026.0 L810.7 1021.0 L812.7 1016.1 L814.7 1011.1 L816.7 1006.1 L818.7 1001.0 L820.7 996.0 L822.7 990.9 L824.7 985.7 L826.7 980.6 L828.7 975.4 L830.7 970.2 L832.7 965.0 L834.7 959.8 L836.7 954.6 L838.7 949.4 L840.7 944.1 L842.7 938.9 L844.7 933.7 L846.7 928.4 L848.7 923.2 L850.7 918.0 L852.7 912.7 L854.7 907.5 L856.7 902.3 L858.7 897.1 L860.7 891.9 L862.7 886.8 L864.7 881.7 L866.7 876.5 L868.7 871.4 L870.7 866.4 L872.7 861.3 L874.7 856.3 L876.7 851.3 L878.7 846.3 L880.7 841.3 L882.7 836.4 L884.7 831.5 L886.7 826.6 L888.7 821.8 L890.7 817.0 L892.7 812.2 L894.7 807.5 L896.7 802.7 L898.7 798.1 L900.7 793.4 L902.7 788.8 L904.7 784.3 L906.7 779.7 L908.7 775.3 L910.7 770.8 L912.7 766.4 L914.7 762.0 L916.7 757.7 L918.7 753.5 L920.7 749.2 L922.7 745.1 L924.7 740.9 L926.7 736.8 L928.7 732.8 L930.7 728.8 L932.7 724.9 L934.7 721.0 L936.7 717.2 L938.7 713.4 L940.7 709.7 L942.7 706.1 L944.7 702.5 L946.7 698.9 L948.7 695.4 L950.7 692.0 L952.7 688.7 L954.7 685.4 L956.7 682.1 L958.7 679.0 L960.7 675.9 L962.7 672.8 L964.7 669.9 L966.7 667.0 L968.7 664.1 L970.7 661.4 L972.7 658.7 L974.7 656.1 L976.7 653.5 L978.7 651.0 L980.7 648.6 L982.7 646.3 L984.7 644.0 L986.7 641.8 L988.7 639.7 L990.7 637.6 L992.7 635.6 L994.7 633.7 L996.7 631.9 L998.7 630.0 L1000.7 628.3 L1002.7 626.6 L1004.7 625.0 L1006.7 623.5 L1008.7 622.0 L1010.7 620.6 L1012.7 619.2 L1014.7 617.9 L1016.7 616.6 L1018.7 615.4 L1020.7 614.3 L1022.7 613.2 L1024.7 612.2 L1026.7 611.2 L1028.7 610.3 L1030.7 609.5 L1032.7 608.7 L1034.7 607.9 L1036.7 607.2 L1038.7 606.6 L1040.7 606.0 L1042.7 605.4 L1044.7 604.9 L1046.7 604.5 L1048.7 604.1 L1050.7 603.7 L1052.7 603.4 L1054.7 603.2 L1056.7 603.0 L1058.7 602.8 L1060.7 602.7 L1062.7 602.7 L1064.7 602.7 L1066.7 602.7 L1068.7 602.8 L1070.7 602.9 L1072.7 603.1 L1074.7 603.3 L1076.7 603.6 L1078.7 603.9 L1080.7 604.2 L1082.7 604.6 L1084.7 605.0 L1086.7 605.5 L1088.7 606.0 L1090.7 606.6 L1092.7 607.2 L1094.7 607.9 L1096.7 608.5 L1098.7 609.3 L1100.7 610.0 L1102.7 610.8 L1104.7 611.7 L1106.7 612.6 L1108.7 613.5 L1110.7 614.4 L1112.7 615.4 L1114.7 616.5 L1116.7 617.5 L1118.7 618.7 L1120.7 619.8 L1122.7 621.0 L1124.7 622.2 L1126.7 623.4 L1128.7 624.7 L1130.7 626.0 L1132.7 627.4 L1134.7 628.8 L1136.7 630.2 L1138.7 631.7 L1140.7 633.1 L1142.7 634.7 L1144.7 636.2 L1146.7 637.8 L1148.7 639.4 L1150.7 641.0 L1152.7 642.7 L1154.7 644.4 L1156.7 646.1 L1158.7 647.9 L1160.7 649.7 L1162.7 651.5 L1164.7 653.4 L1166.7 655.2 L1168.7 657.1 L1170.7 659.1 L1172.7 661.0 L1174.7 663.0 L1176.7 665.0 L1178.7 667.0 L1180.7 669.1 L1182.7 671.1 L1184.7 673.2 L1186.7 675.4 L1188.7 677.5 L1190.7 679.7 L1192.7 681.9 L1194.7 684.1 L1196.7 686.3 L1198.7 688.6 L1200.7 690.9 L1202.7 693.2 L1204.7 695.5 L1206.7 697.9 L1208.7 700.2 L1210.7 702.6 L1212.7 705.0 L1214.7 707.4 L1216.7 709.9 L1218.7 712.3 L1220.7 714.8 L1222.7 717.3 L1224.7 719.8 L1226.7 722.3 L1228.7 724.8 L1230.7 727.4 L1232.7 730.0 L1234.7 732.5 L1236.7 735.1 L1238.7 737.8 L1240.7 740.4 L1242.7 743.0 L1244.7 745.7 L1246.7 748.3 L1248.7 751.0 L1250.7 753.7 L1252.7 756.4 L1254.7 759.1 L1256.7 761.8 L1258.7 764.5 L1260.7 767.3 L1262.7 770.0 L1264.7 772.8 L1266.7 775.6 L1268.7 778.3 L1270.7 781.1 L1272.7 783.9 L1274.7 786.7 L1276.7 789.5 L1278.7 792.3 L1280.7 795.1 L1282.7 798.0 L1284.7 800.8 L1286.7 803.6 L1288.7 806.5 L1290.7 809.3 L1292.7 812.2 L1294.7 815.0 L1296.7 817.9 L1298.7 820.8 L1300.7 823.6 L1302.7 826.5 L1304.7 829.4 L1306.7 832.2 L1308.7 835.1 L1310.7 838.0 L1312.7 840.9 L1314.7 843.7 L1316.7 846.6 L1318.7 849.5 L1320.7 852.4 L1322.7 855.3 L1324.7 858.1 L1326.7 861.0 L1328.7 863.9 L1330.7 866.8 L1332.7 869.6 L1334.7 872.5 L1336.7 875.4 L1338.7 878.2 L1340.7 881.1 L1342.7 884.0 L1344.7 886.8 L1346.7 889.7 L1348.7 892.5 L1350.7 895.3 L1352.7 898.2 L1354.7 901.0 L1356.7 903.8 L1358.7 906.6 L1360.7 909.4 L1362.7 912.2 L1364.7 915.0 L1366.7 917.8 L1368.7 920.6 L1370.7 923.4 L1372.7 926.1 L1374.7 928.9 L1376.7 931.6 L1378.7 934.3 L1380.7 937.1 L1382.7 939.8 L1384.7 942.5 L1386.7 945.2 L1388.7 947.9 L1390.7 950.6 L1392.7 953.2 L1394.7 955.9 L1396.7 958.6 L1398.7 961.2 L1400.7 963.8 L1402.7 966.5 L1404.7 969.1 L1406.7 971.7 L1408.7 974.3 L1410.7 976.9 L1412.7 979.5 L1414.7 982.0 L1416.7 984.6 L1418.7 987.1 L1420.7 989.7 L1422.7 992.2 L1424.7 994.7 L1426.7 997.2 L1428.7 999.7 L1430.7 1002.2 L1432.7 1004.7 L1434.7 1007.2 L1436.7 1009.6 L1438.7 1012.1 L1440.7 1014.5 L1442.7 1016.9 L1444.7 1019.3 L1446.7 1021.7 L1448.7 1024.1 L1450.7 1026.5 L1452.7 1028.9 L1454.7 1031.2 L1456.7 1033.6 L1458.7 1035.9 L1460.7 1038.2 L1462.7 1040.6 L1464.7 1042.9 L1466.7 1045.2 L1468.7 1047.4 L1470.7 1049.7 L1472.7 1051.9 L1474.7 1054.2 L1476.7 1056.4 L1478.7 1058.6 L1480.7 1060.8 L1482.7 1063.0 L1484.7 1065.2 L1486.7 1067.4 L1488.7 1069.6 L1490.7 1071.7 L1492.7 1073.8 L1494.7 1075.9 L1496.7 1078.1 L1498.7 1080.1 L1500.7 1082.2 L1502.7 1084.3 L1504.7 1086.4 L1506.7 1088.4 L1508.7 1090.4 L1510.7 1092.4 L1512.7 1094.4 L1514.7 1096.4 L1516.7 1098.4 L1518.7 1100.4 L1520.7 1102.3 L1522.7 1104.3 L1524.7 1106.2 L1526.7 1108.1 L1528.7 1110.0 L1530.7 1111.9 L1532.7 1113.8 L1534.7 1115.6 L1536.7 1117.5 L1538.7 1119.3 L1540.7 1121.1 L1542.7 1122.9 L1544.7 1124.7 L1546.7 1126.5 L1548.7 1128.2 L1550.7 1130.0 L1552.7 1131.7 L1554.7 1133.5 L1556.7 1135.2 L1558.7 1136.9 L1560.7 1138.6 L1562.7 1140.3 L1564.7 1141.9 L1566.7 1143.6 L1568.7 1145.2 L1570.7 1146.9 L1572.7 1148.5 L1574.7 1150.1 L1576.7 1151.7 L1578.7 1153.3 L1580.7 1154.8 L1582.7 1156.4 L1584.7 1157.9 L1586.7 1159.5 L1588.7 1161.0 L1590.7 1162.5 L1592.7 1164.0 L1594.7 1165.5 L1596.7 1167.0 L1598.7 1168.5 L1600.7 1169.9 L1602.7 1171.4 L1604.7 1172.8 L1606.7 1174.2 L1608.7 1175.6 L1610.7 1177.0 L1612.7 1178.4 L1614.7 1179.8 L1616.7 1181.2 L1618.7 1182.6 L1620.7 1183.9 L1622.7 1185.2 L1624.7 1186.6 L1626.7 1187.9 L1628.7 1189.2 L1630.7 1190.5 L1632.7 1191.8 L1634.7 1193.1 L1636.7 1194.3 L1638.7 1195.6 L1640.7 1196.8 L1642.7 1198.1 L1644.7 1199.3 L1646.7 1200.5 L1648.7 1201.7 L1650.7 1202.9 L1652.7 1204.1 L1654.7 1205.3 L1656.7 1206.5 L1658.7 1207.6 L1660.7 1208.8 L1662.7 1209.9 L1664.7 1211.1 L1666.7 1212.2 L1668.7 1213.3 L1670.7 1214.4 L1672.7 1215.5 L1674.7 1216.6 L1676.7 1217.7 L1678.7 1218.8 L1680.7 1219.8 L1682.7 1220.9 L1684.7 1221.9 L1686.7 1223.0 L1688.7 1224.0 L1690.7 1225.0 L1692.7 1226.0 L1694.7 1227.1 L1696.7 1228.1 L1698.7 1229.0 L1700.7 1230.0 L1702.7 1231.0 L1704.7 1232.0 L1706.7 1232.9 L1708.7 1233.9 L1710.7 1234.8 L1712.7 1235.7 L1714.7 1236.7 L1716.7 1237.6 L1718.7 1238.5 L1720.7 1239.4 L1722.7 1240.3 L1724.7 1241.2 L1726.7 1242.1 L1728.7 1243.0 L1730.7 1243.8 L1732.7 1244.7 L1734.7 1245.5 L1736.7 1246.4 L1738.7 1247.2 L1740.7 1248.1 L1742.7 1248.9 L1744.7 1249.7 L1746.7 1250.5 L1748.7 1251.3 L1750.7 1252.1 L1752.7 1252.9 L1754.7 1253.7 L1756.7 1254.5 L1758.7 1255.3 L1760.7 1256.0 L1762.7 1256.8 L1764.7 1257.6 L1766.7 1258.3 L1768.7 1259.1 L1770.7 1259.8 L1772.7 1260.5 L1774.7 1261.3 L1776.7 1262.0 L1778.7 1262.7 L1780.7 1263.4 L1782.7 1264.1 L1784.7 1264.8 L1786.7 1265.5 L1788.7 1266.2 L1790.7 1266.9 L1792.7 1267.5 L1794.7 1268.2 L1796.7 1268.9 L1798.7 1269.6 L1800.7 1270.2 L1802.7 1270.9 L1804.7 1271.5 L1806.7 1272.1 L1808.7 1272.8 L1810.7 1273.4 L1812.7 1274.0 L1814.7 1274.7 L1816.7 1275.3 L1818.7 1275.9 L1820.7 1276.5 L1822.7 1277.1 L1824.7 1277.7 L1826.7 1278.3 L1828.7 1278.9 L1830.7 1279.4 L1832.7 1280.0 L1834.7 1280.6 L1836.7 1281.2 L1838.7 1281.7 L1840.7 1282.3 L1842.7 1282.8 L1844.7 1283.4 L1846.7 1283.9 L1848.7 1284.5 L1850.7 1285.0 L1852.7 1285.5 L1854.7 1286.0 L1856.7 1286.6 L1858.7 1287.1 L1860.7 1287.6 L1862.7 1288.1 L1864.7 1288.6 L1866.7 1289.1 L1868.7 1289.6 L1870.7 1290.1 L1872.7 1290.6 L1874.7 1291.0 L1876.7 1291.5 L1878.7 1292.0 L1880.7 1292.5 L1882.7 1292.9 L1884.7 1293.4 L1886.7 1293.8 L1888.7 1294.3 L1890.7 1294.7 L1892.7 1295.2 L1894.7 1295.6 L1896.7 1296.1 L1898.7 1296.5 L1900.7 1296.9 L1902.7 1297.3 L1904.7 1297.8 L1906.7 1298.2 L1908.7 1298.6 L1910.7 1299.0 L1912.7 1299.4 L1914.7 1299.8 L1916.7 1300.2 L1918.7 1300.6 L1920.7 1301.0 L1922.7 1301.4 L1924.7 1301.7 L1926.7 1302.1 L1928.7 1302.5 L1930.7 1302.9 L1932.7 1303.2 L1934.7 1303.6 L1936.7 1304.0 L1938.7 1304.3 L1940.7 1304.7 L1942.7 1305.0 L1944.7 1305.4 L1946.7 1305.7 L1948.7 1306.1 L1950.7 1306.4 L1952.7 1306.7 L1954.7 1307.1 L1956.7 1307.4 L1958.7 1307.7 L1960.7 1308.0 L1962.7 1308.3 L1964.7 1308.7 L1966.7 1309.0 L1968.7 1309.3 L1970.7 1309.6 L1972.7 1309.9 L1974.7 1310.2 L1976.7 1310.5 L1978.7 1310.8 L1980.7 1311.1 L1982.7 1311.4 L1984.7 1311.6 L1986.7 1311.9 L1988.7 1312.2 L1990.7 1312.5 L1992.7 1312.8 L1994.7 1313.0 L1996.7 1313.3 L1998.7 1313.6 L2000.7 1313.8 L2002.7 1314.1 L2004.7 1314.4 L2006.7 1314.6 L2008.7 1314.9 L2010.7 1315.1 L2012.7 1315.4 L2014.7 1315.6 L2016.7 1315.9 L2018.7 1316.1 L2020.7 1316.3 L2022.7 1316.6 L2024.7 1316.8 L2026.7 1317.0 L2028.7 1317.3 L2030.7 1317.5 L2032.7 1317.7 L2034.7 1317.9 L2036.7 1318.2 L2037.9 1318.3"/>
<path stroke="#0000ff" d="M348.7 1226.1 L350.7 1227.1 L352.7 1227.8 L354.7 1228.0 L356.7 1227.8 L358.7 1227.2 L360.7 1226.4 L362.7 1225.3 L364.7 1224.1 L366.7 1222.6 L368.7 1221.0 L370.7 1219.4 L372.7 1217.7 L374.7 1216.0 L376.7 1214.4 L378.7 1212.7 L380.7 1211.1 L382.7 1209.5 L384.7 1207.9 L386.7 1206.4 L388.7 1204.8 L390.7 1203.3 L392.7 1201.8 L394.7 1200.3 L396.7 1198.9 L398.7 1197.4 L400.7 1196.0 L402.7 1194.6 L404.7 1193.2 L406.7 1191.8 L408.7 1190.4 L410.7 1189.1 L412.7 1187.7 L414.7 1186.4 L416.7 1185.1 L418.7 1183.8 L420.7 1182.5 L422.7 1181.2 L424.7 1179.9 L426.7 1178.7 L428.7 1177.4 L430.7 1176.2 L432.7 1175.0 L434.7 1173.8 L436.7 1172.6 L438.7 1171.4 L440.7 1170.2 L442.7 1169.0 L444.7 1167.8 L446.7 1166.7 L448.7 1165.5 L450.7 1164.4 L452.7 1163.2 L454.7 1162.1 L456.7 1161.0 L458.7 1159.8 L460.7 1158.7 L462.7 1157.6 L464.7 1156.5 L466.7 1155.4 L468.7 1154.3 L470.7 1153.3 L472.7 1152.2 L474.7 1151.1 L476.7 1150.0 L478.7 1149.0 L480.7 1147.9 L482.7 1146.9 L484.7 1145.8 L486.7 1144.8 L488.7 1143.7 L490.7 1142.7 L492.7 1141.7 L494.7 1140.6 L496.7 1139.6 L498.7 1138.6 L500.7 1137.6 L502.7 1136.6 L504.7 1135.6 L506.7 1134.6 L508.7 1133.6 L510.7 1132.6 L512.7 1131.6 L514.7 1130.6 L516.7 1129.6 L518.7 1128.6 L520.7 1127.6 L522.7 1126.6 L524.7 1125.6 L526.7 1124.6 L528.7 1123.7 L530.7 1122.7 L532.7 1121.7 L534.7 1120.7 L536.7 1119.7 L538.7 1118.8 L540.7 1117.8 L542.7 1116.8 L544.7 1115.8 L546.7 1114.8 L548.7 1113.9 L550.7 1112.9 L552.7 1111.9 L554.7 1110.9 L556.7 1110.0 L558.7 1109.0 L560.7 1108.0 L562.7 1107.0 L564.7 1106.0 L566.7 1105.0 L568.7 1104.1 L570.7 1103.1 L572.7 1102.1 L574.7 1101.1 L576.7 1100.1 L578.7 1099.1 L580.7 1098.1 L582.7 1097.1 L584.7 1096.1 L586.7 1095.1 L588.7 1094.1 L590.7 1093.0 L592.7 1092.0 L594.7 1091.0 L596.7 1090.0 L598.7 1088.9 L600.7 1087.9 L602.7 1086.8 L604.7 1085.8 L606.7 1084.7 L608.7 1083.6 L610.7 1082.5 L612.7 1081.4 L614.7 1080.3 L616.7 1079.2 L618.7 1078.0 L620.7 1076.9 L622.7 1075.7 L624.7 1074.5 L626.7 1073.3 L628.7 1072.1 L630.7 1070.8 L632.7 1069.6 L634.7 1068.3 L636.7 1067.0 L638.7 1065.7 L640.7 1064.3 L642.7 1062.9 L644.7 1061.5 L646.7 1060.1 L648.7 1058.6 L650.7 1057.2 L652.7 1055.6 L654.7 1054.1 L656.7 1052.5 L658.7 1050.9 L660.7 1049.3 L662.7 1047.6 L664.7 1045.9 L666.7 1044.2 L668.7 1042.5 L670.7 1040.7 L672.7 1038.8 L674.7 1036.9 L676.7 1035.0 L678.7 1033.1 L680.7 1031.1 L682.7 1029.1 L684.7 1027.0 L686.7 1024.9 L688.7 1022.7 L690.7 1020.5 L692.7 1018.3 L694.7 1016.0 L696.7 1013.7 L698.7 1011.3 L700.7 1008.9 L702.7 1006.4 L704.7 1003.9 L706.7 1001.3 L708.7 998.7 L710.7 996.0 L712.7 993.3 L714.7 990.5 L716.7 987.7 L718.7 984.8 L720.7 981.9 L722.7 978.9 L724.7 975.9 L726.7 972.9 L728.7 969.8 L730.7 966.7 L732.7 963.5 L734.7 960.3 L736.7 957.1 L738.7 953.8 L740.7 950.5 L742.7 947.2 L744.7 943.8 L746.7 940.4 L748.7 937.0 L750.7 933.6 L752.7 930.1 L754.7 926.6 L756.7 923.0 L758.7 919.5 L760.7 915.9 L762.7 912.3 L764.7 908.6 L766.7 905.0 L768.7 901.3 L770.7 897.7 L772.7 894.0 L774.7 890.2 L776.7 886.5 L778.7 882.8 L780.7 879.0 L782.7 875.2 L784.7 871.5 L786.7 867.7 L788.7 863.9 L790.7 860.1 L792.7 856.3 L794.7 852.4 L796.7 848.6 L798.7 844.8 L800.7 841.0 L802.7 837.2 L804.7 833.3 L806.7 829.5 L808.7 825.7 L810.7 821.9 L812.7 818.1 L814.7 814.3 L816.7 810.5 L818.7 806.7 L820.7 802.9 L822.7 799.1 L824.7 795.4 L826.7 791.6 L828.7 787.9 L830.7 784.2 L832.7 780.5 L834.7 776.8 L836.7 773.1 L838.7 769.5 L840.7 765.9 L842.7 762.3 L844.7 758.7 L846.7 755.1 L848.7 751.6 L850.7 748.1 L852.7 744.6 L854.7 741.1 L856.7 737.7 L858.7 734.3 L860.7 730.9 L862.7 727.6 L864.7 724.3 L866.7 721.0 L868.7 717.8 L870.7 714.6 L872.7 711.4 L874.7 708.3 L876.7 705.2 L878.7 702.2 L880.7 699.2 L882.7 696.2 L884.7 693.3 L886.7 690.5 L888.7 687.6 L890.7 684.9 L892.7 682.1 L894.7 679.5 L896.7 676.8 L898.7 674.3 L900.7 671.7 L902.7 669.3 L904.7 666.9 L906.7 664.5 L908.7 662.2 L910.7 660.0 L912.7 657.8 L914.7 655.6 L916.7 653.6 L918.7 651.6 L920.7 649.6 L922.7 647.8 L924.7 646.0 L926.7 644.2 L928.7 642.5 L930.7 640.9 L932.7 639.4 L934.7 637.9 L936.7 636.4 L938.7 635.1 L940.7 633.7 L942.7 632.5 L944.7 631.3 L946.7 630.2 L948.7 629.1 L950.7 628.0 L952.7 627.1 L954.7 626.2 L956.7 625.3 L958.7 624.5 L960.7 623.8 L962.7 623.1 L964.7 622.4 L966.7 621.8 L968.7 621.3 L970.7 620.8 L972.7 620.4 L974.7 620.0 L976.7 619.7 L978.7 619.4 L980.7 619.2 L982.7 619.0 L984.7 618.8 L986.7 618.7 L988.7 618.7 L990.7 618.7 L992.7 618.7 L994.7 618.8 L996.7 619.0 L998.7 619.1 L1000.7 619.4 L1002.7 619.6 L1004.7 619.9 L1006.7 620.3 L1008.7 620.7 L1010.7 621.1 L1012.7 621.5 L1014.7 622.1 L1016.7 622.6 L1018.7 623.2 L1020.7 623.8 L1022.7 624.5 L1024.7 625.1 L1026.7 625.9 L1028.7 626.6 L1030.7 627.4 L1032.7 628.3 L1034.7 629.1 L1036.7 630.0 L1038.7 631.0 L1040.7 631.9 L1042.7 633.0 L1044.7 634.0 L1046.7 635.1 L1048.7 636.2 L1050.7 637.3 L1052.7 638.5 L1054.7 639.7 L1056.7 640.9 L1058.7 642.1 L1060.7 643.4 L1062.7 644.8 L1064.7 646.1 L1066.7 647.5 L1068.7 648.9 L1070.7 650.3 L1072.7 651.8 L1074.7 653.3 L1076.7 654.8 L1078.7 656.4 L1080.7 657.9 L1082.7 659.6 L1084.7 661.2 L1086.7 662.8 L1088.7 664.5 L1090.7 666.2 L1092.7 668.0 L1094.7 669.7 L1096.7 671.5 L1098.7 673.3 L1100.7 675.2 L1102.7 677.0 L1104.7 678.9 L1106.7 680.8 L1108.7 682.8 L1110.7 684.7 L1112.7 686.7 L1114.7 688.7 L1116.7 690.7 L1118.7 692.7 L1120.7 694.8 L1122.7 696.9 L1124.7 699.0 L1126.7 701.1 L1128.7 703.3 L1130.7 705.4 L1132.7 707.6 L1134.7 709.8 L1136.7 712.0 L1138.7 714.3 L1140.7 716.5 L1142.7 718.8 L1144.7 721.1 L1146.7 723.4 L1148.7 725.7 L1150.7 728.1 L1152.7 730.4 L1154.7 732.8 L1156.7 735.2 L1158.7 737.6 L1160.7 740.0 L1162.7 742.5 L1164.7 744.9 L1166.7 747.4 L1168.7 749.8 L1170.7 752.3 L1172.7 754.8 L1174.7 757.4 L1176.7 759.9 L1178.7 762.4 L1180.7 765.0 L1182.7 767.5 L1184.7 770.1 L1186.7 772.7 L1188.7 775.3 L1190.7 777.9 L1192.7 780.5 L1194.7 783.2 L1196.7 785.8 L1198.7 788.4 L1200.7 791.1 L1202.7 793.7 L1204.7 796.4 L1206.7 799.1 L1208.7 801.8 L1210.7 804.5 L1212.7 807.2 L1214.7 809.9 L1216.7 812.6 L1218.7 815.3 L1220.7 818.0 L1222.7 820.8 L1224.7 823.5 L1226.7 826.2 L1228.7 829.0 L1230.7 831.7 L1232.7 834.5 L1234.7 837.2 L1236.7 840.0 L1238.7 842.8 L1240.7 845.5 L1242.7 848.3 L1244.7 851.0 L1246.7 853.8 L1248.7 856.6 L1250.7 859.4 L1252.7 862.1 L1254.7 864.9 L1256.7 867.7 L1258.7 870.4 L1260.7 873.2 L1262.7 876.0 L1264.7 878.7 L1266.7 881.5 L1268.7 884.3 L1270.7 887.0 L1272.7 889.8 L1274.7 892.6 L1276.7 895.3 L1278.7 898.1 L1280.7 900.8 L1282.7 903.6 L1284.7 906.3 L1286.7 909.1 L1288.7 911.8 L1290.7 914.6 L1292.7 917.3 L1294.7 920.0 L1296.7 922.8 L1298.7 925.5 L1300.7 928.2 L1302.7 930.9 L1304.7 933.6 L1306.7 936.3 L1308.7 939.0 L1310.7 941.7 L1312.7 944.4 L1314.7 947.1 L1316.7 949.8 L1318.7 952.5 L1320.7 955.1 L1322.7 957.8 L1324.7 960.5 L1326.7 963.1 L1328.7 965.7 L1330.7 968.4 L1332.7 971.0 L1334.7 973.6 L1336.7 976.2 L1338.7 978.8 L1340.7 981.4 L1342.7 984.0 L1344.7 986.6 L1346.7 989.2 L1348.7 991.8 L1350.7 994.3 L1352.7 996.9 L1354.7 999.4 L1356.7 1001.9 L1358.7 1004.4 L1360.7 1006.9 L1362.7 1009.4 L1364.7 1011.9 L1366.7 1014.4 L1368.7 1016.9 L1370.7 1019.3 L1372.7 1021.8 L1374.7 1024.2 L1376.7 1026.6 L1378.7 1029.0 L1380.7 1031.4 L1382.7 1033.8 L1384.7 1036.2 L1386.7 1038.6 L1388.7 1040.9 L1390.7 1043.3 L1392.7 1045.6 L1394.7 1047.9 L1396.7 1050.2 L1398.7 1052.5 L1400.7 1054.8 L1402.7 1057.0 L1404.7 1059.3 L1406.7 1061.5 L1408.7 1063.7 L1410.7 1065.9 L1412.7 1068.1 L1414.7 1070.3 L1416.7 1072.5 L1418.7 1074.6 L1420.7 1076.7 L1422.7 1078.9 L1424.7 1081.0 L1426.7 1083.0 L1428.7 1085.1 L1430.7 1087.2 L1432.7 1089.2 L1434.7 1091.2 L1436.7 1093.2 L1438.7 1095.2 L1440.7 1097.2 L1442.7 1099.1 L1444.7 1101.0 L1446.7 1103.0 L1448.7 1104.9 L1450.7 1106.8 L1452.7 1108.6 L1454.7 1110.5 L1456.7 1112.3 L1458.7 1114.1 L1460.7 1116.0 L1462.7 1117.8 L1464.7 1119.5 L1466.7 1121.3 L1468.7 1123.1 L1470.7 1124.8 L1472.7 1126.5 L1474.7 1128.2 L1476.7 1129.9 L1478.7 1131.6 L1480.7 1133.3 L1482.7 1134.9 L1484.7 1136.6 L1486.7 1138.2 L1488.7 1139.8 L1490.7 1141.4 L1492.7 1143.0 L1494.7 1144.6 L1496.7 1146.2 L1498.7 1147.8 L1500.7 1149.3 L1502.7 1150.8 L1504.7 1152.4 L1506.7 1153.9 L1508.7 1155.4 L1510.7 1156.9 L1512.7 1158.4 L1514.7 1159.8 L1516.7 1161.3 L1518.7 1162.8 L1520.7 1164.2 L1522.7 1165.7 L1524.7 1167.1 L1526.7 1168.5 L1528.7 1169.9 L1530.7 1171.3 L1532.7 1172.7 L1534.7 1174.1 L1536.7 1175.5 L1538.7 1176.8 L1540.7 1178.2 L1542.7 1179.5 L1544.7 1180.9 L1546.7 1182.2 L1548.7 1183.5 L1550.7 1184.8 L1552.7 1186.1 L1554.7 1187.4 L1556.7 1188.7 L1558.7 1190.0 L1560.7 1191.2 L1562.7 1192.5 L1564.7 1193.7 L1566.7 1195.0 L1568.7 1196.2 L1570.7 1197.4 L1572.7 1198.6 L1574.7 1199.8 L1576.7 1201.0 L1578.7 1202.2 L1580.7 1203.4 L1582.7 1204.6 L1584.7 1205.7 L1586.7 1206.9 L1588.7 1208.0 L1590.7 1209.2 L1592.7 1210.3 L1594.7 1211.4 L1596.7 1212.6 L1598.7 1213.7 L1600.7 1214.8 L1602.7 1215.9 L1604.7 1216.9 L1606.7 1218.0 L1608.7 1219.1 L1610.7 1220.1 L1612.7 1221.2 L1614.7 1222.2 L1616.7 1223.3 L1618.7 1224.3 L1620.7 1225.3 L1622.7 1226.3 L1624.7 1227.4 L1626.7 1228.3 L1628.7 1229.3 L1630.7 1230.3 L1632.7 1231.3 L1634.7 1232.3 L1636.7 1233.2 L1638.7 1234.2 L1640.7 1235.1 L1642.7 1236.1 L1644.7 1237.0 L1646.7 1237.9 L1648.7 1238.9 L1650.7 1239.8 L1652.7 1240.7 L1654.7 1241.6 L1656.7 1242.5 L1658.7 1243.3 L1660.7 1244.2 L1662.7 1245.1 L1664.7 1246.0 L1666.7 1246.8 L1668.7 1247.7 L1670.7 1248.5 L1672.7 1249.3 L1674.7 1250.2 L1676.7 1251.0 L1678.7 1251.8 L1680.7 1252.6 L1682.7 1253.4 L1684.7 1254.2 L1686.7 1255.0 L1688.7 1255.8 L1690.7 1256.6 L1692.7 1257.4 L1694.7 1258.1 L1696.7 1258.9 L1698.7 1259.6 L1700.7 1260.4 L1702.7 1261.1 L1704.7 1261.9 L1706.7 1262.6 L1708.7 1263.3 L1710.7 1264.0 L1712.7 1264.7 L1714.7 1265.4 L1716.7 1266.1 L1718.7 1266.8 L1720.7 1267.5 L1722.7 1268.2 L1724.7 1268.9 L1726.7 1269.5 L1728.7 1270.2 L1730.7 1270.9 L1732.7 1271.5 L1734.7 1272.2 L1736.7 1272.8 L1738.7 1273.5 L1740.7 1274.1 L1742.7 1274.7 L1744.7 1275.3 L1746.7 1275.9 L1748.7 1276.6 L1750.7 1277.2 L1752.7 1277.8 L1754.7 1278.4 L1756.7 1278.9 L1758.7 1279.5 L1760.7 1280.1 L1762.7 1280.7 L1764.7 1281.3 L1766.7 1281.8 L1768.7 1282.4 L1770.7 1282.9 L1772.7 1283.5 L1774.7 1284.0 L1776.7 1284.6 L1778.7 1285.1 L1780.7 1285.6 L1782.7 1286.2 L1784.7 1286.7 L1786.7 1287.2 L1788.7 1287.7 L1790.7 1288.2 L1792.7 1288.7 L1794.7 1289.2 L1796.7 1289.7 L1798.7 1290.2 L1800.7 1290.7 L1802.7 1291.2 L1804.7 1291.6 L1806.7 1292.1 L1808.7 1292.6 L1810.7 1293.0 L1812.7 1293.5 L1814.7 1294.0 L1816.7 1294.4 L1818.7 1294.9 L1820.7 1295.3 L1822.7 1295.7 L1824.7 1296.2 L1826.7 1296.6 L1828.7 1297.0 L1830.7 1297.4 L1832.7 1297.9 L1834.7 1298.3 L1836.7 1298.7 L1838.7 1299.1 L1840.7 1299.5 L1842.7 1299.9 L1844.7 1300.3 L1846.7 1300.7 L1848.7 1301.1 L1850.7 1301.4 L1852.7 1301.8 L1854.7 1302.2 L1856.7 1302.6 L1858.7 1302.9 L1860.7 1303.3 L1862.7 1303.7 L1864.7 1304.0 L1866.7 1304.4 L1868.7 1304.7 L1870.7 1305.1 L1872.7 1305.4 L1874.7 1305.7 L1876.7 1306.1 L1878.7 1306.4 L1880.7 1306.7 L1882.7 1307.1 L1884.7 1307.4 L1886.7 1307.7 L1888.7 1308.0 L1890.7 1308.3 L1892.7 1308.6 L1894.7 1308.9 L1896.7 1309.2 L1898.7 1309.5 L1900.7 1309.8 L1902.7 1310.1 L1904.7 1310.4 L1906.7 1310.7 L1908.7 1311.0 L1910.7 1311.3 L1912.7 1311.5 L1914.7 1311.8 L1916.7 1312.1 L1918.7 1312.3 L1920.7 1312.6 L1922.7 1312.9 L1924.7 1313.1 L1926.7 1313.4 L1928.7 1313.6 L1930.7 1313.9 L1932.7 1314.1 L1934.7 1314.4 L1936.7 1314.6 L1938.7 1314.9 L1940.7 1315.1 L1942.7 1315.3 L1944.7 1315.6 L1946.7 1315.8 L1948.7 1316.0 L1950.7 1316.3 L1952.7 1316.5 L1954.7 1316.7 L1956.7 1316.9 L1958.7 1317.1 L1960.7 1317.3 L1962.7 1317.5 L1964.7 1317.8 L1966.7 1318.0 L1968.7 1318.2 L1970.7 1318.4 L1972.7 1318.6 L1974.7 1318.8 L1976.7 1318.9 L1978.7 1319.1 L1980.7 1319.3 L1982.7 1319.5 L1984.7 1319.7 L1986.7 1319.9 L1988.7 1320.1 L1990.7 1320.2 L1992.7 1320.4 L1994.7 1320.6 L1996.7 1320.8 L1998.7 1320.9 L2000.7 1321.1 L2002.7 1321.3 L2004.7 1321.4 L2006.7 1321.6 L2008.7 1321.8 L2010.7 1321.9 L2012.7 1322.1 L2014.7 1322.2 L2016.7 1322.4 L2018.7 1322.5 L2020.7 1322.7 L2022.7 1322.8 L2024.7 1323.0 L2026.7 1323.1 L2028.7 1323.3 L2030.7 1323.4 L2032.7 1323.6 L2034.7 1323.7 L2036.7 1323.8 L2037.9 1323.9"/>
<path stroke="#ff00ff" d="M348.7 1339.5 L350.7 1339.3 L352.7 1339.1 L354.7 1338.9 L356.7 1338.7 L358.7 1338.6 L360.7 1338.4 L362.7 1338.2 L364.7 1338.0 L366.7 1337.8 L368.7 1337.6 L370.7 1337.5 L372.7 1337.3 L374.7 1337.1 L376.7 1336.9 L378.7 1336.8 L380.7 1336.6 L382.7 1336.4 L384.7 1336.2 L386.7 1336.1 L388.7 1335.9 L390.7 1335.7 L392.7 1335.6 L394.7 1335.4 L396.7 1335.3 L398.7 1335.1 L400.7 1335.0 L402.7 1334.8 L404.7 1334.6 L406.7 1334.5 L408.7 1334.4 L410.7 1334.2 L412.7 1334.0 L414.7 1333.9 L416.7 1333.7 L418.7 1333.6 L420.7 1333.4 L422.7 1333.3 L424.7 1333.1 L426.7 1333.0 L428.7 1332.8 L430.7 1332.7 L432.7 1332.5 L434.7 1332.4 L436.7 1332.2 L438.7 1332.1 L440.7 1331.9 L442.7 1331.8 L444.7 1331.7 L446.7 1331.5 L448.7 1331.4 L450.7 1331.3 L452.7 1331.1 L454.7 1331.0 L456.7 1330.9 L458.7 1330.8 L460.7 1330.7 L462.7 1330.6 L464.7 1330.5 L466.7 1330.4 L468.7 1330.4 L470.7 1330.3 L472.7 1330.2 L474.7 1330.2 L476.7 1330.1 L478.7 1330.0 L480.7 1330.0 L482.7 1329.9 L484.7 1329.9 L486.7 1329.8 L488.7 1329.8 L490.7 1329.7 L492.7 1329.6 L494.7 1329.6 L496.7 1329.6 L498.7 1329.5 L500.7 1329.5 L502.7 1329.4 L504.7 1329.4 L506.7 1329.3 L508.7 1329.3 L510.7 1329.3 L512.7 1329.3 L514.7 1329.2 L516.7 1329.2 L518.7 1329.2 L520.7 1329.2 L522.7 1329.2 L524.7 1329.2 L526.7 1329.2 L528.7 1329.2 L530.7 1329.2 L532.7 1329.2 L534.7 1329.2 L536.7 1329.3 L538.7 1329.3 L540.7 1329.3 L542.7 1329.3 L544.7 1329.4 L546.7 1329.4 L548.7 1329.4 L550.7 1329.4 L552.7 1329.5 L554.7 1329.5 L556.7 1329.5 L558.7 1329.6 L560.7 1329.6 L562.7 1329.6 L564.7 1329.7 L566.7 1329.7 L568.7 1329.7 L570.7 1329.8 L572.7 1329.8 L574.7 1329.8 L576.7 1329.9 L578.7 1329.9 L580.7 1329.9 L582.7 1330.0 L584.7 1330.0 L586.7 1330.1 L588.7 1330.1 L590.7 1330.2 L592.7 1330.2 L594.7 1330.2 L596.7 1330.3 L598.7 1330.3 L600.7 1330.4 L602.7 1330.5 L604.7 1330.5 L606.7 1330.6 L608.7 1330.6 L610.7 1330.7 L612.7 1330.7 L614.7 1330.8 L616.7 1330.9 L618.7 1330.9 L620.7 1331.0 L622.7 1331.0 L624.7 1331.1 L626.7 1331.2 L628.7 1331.2 L630.7 1331.3 L632.7 1331.4 L634.7 1331.4 L636.7 1331.5 L638.7 1331.6 L640.7 1331.6 L642.7 1331.7 L644.7 1331.8 L646.7 1331.8 L648.7 1331.9 L650.7 1332.0 L652.7 1332.0 L654.7 1332.1 L656.7 1332.2 L658.7 1332.3 L660.7 1332.4 L662.7 1332.4 L664.7 1332.5 L666.7 1332.6 L668.7 1332.7 L670.7 1332.8 L672.7 1332.9 L674.7 1332.9 L676.7 1333.0 L678.7 1333.1 L680.7 1333.2 L682.7 1333.3 L684.7 1333.4 L686.7 1333.5 L688.7 1333.5 L690.7 1333.6 L692.7 1333.7 L694.7 1333.8 L696.7 1333.9 L698.7 1333.9 L700.7 1334.0 L702.7 1334.1 L704.7 1334.2 L706.7 1334.3 L708.7 1334.4 L710.7 1334.4 L712.7 1334.5 L714.7 1334.6 L716.7 1334.7 L718.7 1334.8 L720.7 1334.9 L722.7 1335.0 L724.7 1335.0 L726.7 1335.1 L728.7 1335.2 L730.7 1335.3 L732.7 1335.4 L734.7 1335.5 L736.7 1335.6 L738.7 1335.7 L740.7 1335.7 L742.7 1335.8 L744.7 1335.9 L746.7 1336.0 L748.7 1336.1 L750.7 1336.2 L752.7 1336.2 L754.7 1336.3 L756.7 1336.4 L758.7 1336.5 L760.7 1336.5 L762.7 1336.6 L764.7 1336.7 L766.7 1336.8 L768.7 1336.8 L770.7 1336.9 L772.7 1337.0 L774.7 1337.0 L776.7 1337.1 L778.7 1337.2 L780.7 1337.2 L782.7 1337.3 L784.7 1337.3 L786.7 1337.4 L788.7 1337.5 L790.7 1337.5 L792.7 1337.6 L794.7 1337.6 L796.7 1337.7 L798.7 1337.8 L800.7 1337.8 L802.7 1337.9 L804.7 1337.9 L806.7 1338.0 L808.7 1338.0 L810.7 1338.1 L812.7 1338.1 L814.7 1338.2 L816.7 1338.2 L818.7 1338.3 L820.7 1338.3 L822.7 1338.4 L824.7 1338.4 L826.7 1338.4 L828.7 1338.5 L830.7 1338.5 L832.7 1338.5 L834.7 1338.6 L836.7 1338.6 L838.7 1338.6 L840.7 1338.6 L842.7 1338.6 L844.7 1338.6 L846.7 1338.6 L848.7 1338.6 L850.7 1338.7 L852.7 1338.7 L854.7 1338.7 L856.7 1338.7 L858.7 1338.7 L860.7 1338.7 L862.7 1338.7 L864.7 1338.7 L866.7 1338.7 L868.7 1338.7 L870.7 1338.7 L872.7 1338.7 L874.7 1338.8 L876.7 1338.8 L878.7 1338.8 L880.7 1338.8 L882.7 1338.8 L884.7 1338.8 L886.7 1338.8 L888.7 1338.8 L890.7 1338.8 L892.7 1338.8 L894.7 1338.8 L896.7 1338.8 L898.7 1338.8 L900.7 1338.8 L902.7 1338.9 L904.7 1338.9 L906.7 1338.9 L908.7 1338.9 L910.7 1338.9 L912.7 1338.9 L914.7 1338.9 L916.7 1338.9 L918.7 1338.9 L920.7 1338.9 L922.7 1338.9 L924.7 1338.9 L926.7 1338.9 L928.7 1338.9 L930.7 1338.9 L932.7 1338.9 L934.7 1338.9 L936.7 1338.9 L938.7 1338.9 L940.7 1338.9 L942.7 1339.0 L944.7 1339.0 L946.7 1339.0 L948.7 1339.0 L950.7 1339.0 L952.7 1339.0 L954.7 1339.0 L956.7 1339.0 L958.7 1339.0 L960.7 1339.0 L962.7 1339.0 L964.7 1339.0 L966.7 1339.0 L968.7 1339.0 L970.7 1339.0 L972.7 1339.0 L974.7 1339.0 L976.7 1339.0 L978.7 1339.0 L980.7 1339.0 L982.7 1339.0 L984.7 1339.0 L986.7 1339.0 L988.7 1339.0 L990.7 1339.0 L992.7 1339.0 L994.7 1339.0 L996.7 1339.0 L998.7 1339.0 L1000.7 1339.0 L1002.7 1339.0 L1004.7 1339.0 L1006.7 1339.0 L1008.7 1339.0 L1010.7 1339.0 L1012.7 1339.0 L1014.7 1339.0 L1016.7 1339.0 L1018.7 1339.0 L1020.7 1339.0 L1022.7 1339.0 L1024.7 1339.0 L1026.7 1339.0 L1028.7 1339.0 L1030.7 1339.0 L1032.7 1339.0 L1034.7 1339.0 L1036.7 1339.0 L1038.7 1339.0 L1040.7 1339.0 L1042.7 1339.0 L1044.7 1339.0 L1046.7 1339.0 L1048.7 1339.0 L1050.7 1339.0 L1052.7 1339.0 L1054.7 1339.0 L1056.7 1339.0 L1058.7 1339.0 L1060.7 1339.0 L1062.7 1339.0 L1064.7 1339.0 L1066.7 1339.0 L1068.7 1339.0 L1070.7 1339.0 L1072.7 1339.0 L1074.7 1339.0 L1076.7 1339.0 L1078.7 1339.0 L1080.7 1339.0 L1082.7 1339.0 L1084.7 1339.0 L1086.7 1339.0 L1088.7 1339.0 L1090.7 1339.0 L1092.7 1339.0 L1094.7 1339.0 L1096.7 1339.0 L1098.7 1339.0 L1100.7 1339.0 L1102.7 1339.0 L1104.7 1339.0 L1106.7 1339.0 L1108.7 1339.0 L1110.7 1339.0 L1112.7 1339.0 L1114.7 1339.0 L1116.7 1339.0 L1118.7 1339.0 L1120.7 1339.0 L1122.7 1339.0 L1124.7 1339.0 L1126.7 1339.0 L1128.7 1339.0 L1130.7 1339.0 L1132.7 1339.0 L1134.7 1339.0 L1136.7 1339.0 L1138.7 1339.0 L1140.7 1339.0 L1142.7 1339.0 L1144.7 1339.0 L1146.7 1339.0 L1148.7 1339.0 L1150.7 1339.0 L1152.7 1339.0 L1154.7 1339.0 L1156.7 1339.0 L1158.7 1339.0 L1160.7 1339.0 L1162.7 1339.0 L1164.7 1339.0 L1166.7 1339.0 L1168.7 1339.0 L1170.7 1339.0 L1172.7 1339.0 L1174.7 1339.0 L1176.7 1339.0 L1178.7 1339.0 L1180.7 1339.0 L1182.7 1339.0 L1184.7 1339.0 L1186.7 1339.0 L1188.7 1339.0 L1190.7 1339.0 L1192.7 1339.0 L1194.7 1339.0 L1196.7 1339.0 L1198.7 1339.0 L1200.7 1339.0 L1202.7 1339.0 L1204.7 1339.0 L1206.7 1339.0 L1208.7 1339.0 L1210.7 1339.0 L1212.7 1339.0 L1214.7 1339.0 L1216.7 1339.0 L1218.7 1339.0 L1220.7 1339.0 L1222.7 1339.0 L1224.7 1339.0 L1226.7 1339.0 L1228.7 1339.0 L1230.7 1339.0 L1232.7 1339.0 L1234.7 1339.0 L1236.7 1339.0 L1238.7 1339.0 L1240.7 1339.0 L1242.7 1339.0 L1244.7 1339.0 L1246.7 1339.0 L1248.7 1339.0 L1250.7 1339.0 L1252.7 1339.0 L1254.7 1339.0 L1256.7 1339.0 L1258.7 1339.0 L1260.7 1339.0 L1262.7 1339.0 L1264.7 1339.0 L1266.7 1339.0 L1268.7 1339.0 L1270.7 1339.0 L1272.7 1339.0 L1274.7 1339.0 L1276.7 1339.0 L1278.7 1339.0 L1280.7 1339.0 L1282.7 1339.0 L1284.7 1339.0 L1286.7 1339.0 L1288.7 1339.0 L1290.7 1339.0 L1292.7 1339.0 L1294.7 1339.0 L1296.7 1339.0 L1298.7 1339.0 L1300.7 1339.0 L1302.7 1339.0 L1304.7 1339.0 L1306.7 1339.0 L1308.7 1339.0 L1310.7 1339.0 L1312.7 1339.0 L1314.7 1339.0 L1316.7 1339.0 L1318.7 1339.0 L1320.7 1339.0 L1322.7 1339.0 L1324.7 1339.0 L1326.7 1339.0 L1328.7 1339.0 L1330.7 1339.0 L1332.7 1339.0 L1334.7 1339.0 L1336.7 1339.0 L1338.7 1339.0 L1340.7 1339.0 L1342.7 1339.0 L1344.7 1339.0 L1346.7 1339.0 L1348.7 1339.0 L1350.7 1339.0 L1352.7 1339.0 L1354.7 1339.0 L1356.7 1339.0 L1358.7 1339.0 L1360.7 1339.0 L1362.7 1339.0 L1364.7 1339.0 L1366.7 1339.0 L1368.7 1339.0 L1370.7 1339.0 L1372.7 1339.0 L1374.7 1339.0 L1376.7 1339.0 L1378.7 1339.0 L1380.7 1339.0 L1382.7 1339.0 L1384.7 1339.0 L1386.7 1339.0 L1388.7 1339.0 L1390.7 1339.0 L1392.7 1339.0 L1394.7 1339.0 L1396.7 1339.0 L1398.7 1339.0 L1400.7 1339.0 L1402.7 1339.0 L1404.7 1339.0 L1406.7 1339.0 L1408.7 1339.0 L1410.7 1339.0 L1412.7 1339.0 L1414.7 1339.0 L1416.7 1339.0 L1418.7 1339.0 L1420.7 1339.0 L1422.7 1339.0 L1424.7 1339.0 L1426.7 1339.0 L1428.7 1339.0 L1430.7 1339.0 L1432.7 1339.0 L1434.7 1339.0 L1436.7 1339.0 L1438.7 1339.0 L1440.7 1339.0 L1442.7 1339.0 L1444.7 1339.0 L1446.7 1339.0 L1448.7 1339.0 L1450.7 1339.0 L1452.7 1339.0 L1454.7 1339.0 L1456.7 1339.0 L1458.7 1339.0 L1460.7 1339.0 L1462.7 1339.0 L1464.7 1339.0 L1466.7 1339.0 L1468.7 1339.0 L1470.7 1339.0 L1472.7 1339.0 L1474.7 1339.0 L1476.7 1339.0 L1478.7 1339.0 L1480.7 1339.0 L1482.7 1339.0 L1484.7 1339.0 L1486.7 1339.0 L1488.7 1339.0 L1490.7 1339.0 L1492.7 1339.0 L1494.7 1339.0 L1496.7 1339.0 L1498.7 1339.0 L1500.7 1339.0 L1502.7 1339.0 L1504.7 1339.0 L1506.7 1339.0 L1508.7 1339.0 L1510.7 1339.0 L1512.7 1339.0 L1514.7 1339.0 L1516.7 1339.0 L1518.7 1339.0 L1520.7 1339.0 L1522.7 1339.0 L1524.7 1339.0 L1526.7 1339.0 L1528.7 1339.0 L1530.7 1339.0 L1532.7 1339.0 L1534.7 1339.0 L1536.7 1339.0 L1538.7 1339.0 L1540.7 1339.0 L1542.7 1339.0 L1544.7 1339.0 L1546.7 1339.0 L1548.7 1339.0 L1550.7 1339.0 L1552.7 1339.0 L1554.7 1339.0 L1556.7 1339.0 L1558.7 1339.0 L1560.7 1339.0 L1562.7 1339.0 L1564.7 1339.0 L1566.7 1339.0 L1568.7 1339.0 L1570.7 1339.0 L1572.7 1339.0 L1574.7 1339.0 L1576.7 1339.0 L1578.7 1339.0 L1580.7 1339.0 L1582.7 1339.0 L1584.7 1339.0 L1586.7 1339.0 L1588.7 1339.0 L1590.7 1339.0 L1592.7 1339.0 L1594.7 1339.0 L1596.7 1339.0 L1598.7 1339.0 L1600.7 1339.0 L1602.7 1339.0 L1604.7 1339.0 L1606.7 1339.0 L1608.7 1339.0 L1610.7 1339.0 L1612.7 1339.0 L1614.7 1339.0 L1616.7 1339.0 L1618.7 1339.0 L1620.7 1339.0 L1622.7 1339.0 L1624.7 1339.0 L1626.7 1339.0 L1628.7 1339.0 L1630.7 1339.0 L1632.7 1339.0 L1634.7 1339.0 L1636.7 1339.0 L1638.7 1339.0 L1640.7 1339.0 L1642.7 1339.0 L1644.7 1339.0 L1646.7 1339.0 L1648.7 1339.0 L1650.7 1339.0 L1652.7 1339.0 L1654.7 1339.0 L1656.7 1339.0 L1658.7 1339.0 L1660.7 1339.0 L1662.7 1339.0 L1664.7 1339.0 L1666.7 1339.0 L1668.7 1339.0 L1670.7 1339.0 L1672.7 1339.0 L1674.7 1339.0 L1676.7 1339.0 L1678.7 1339.0 L1680.7 1339.0 L1682.7 1339.0 L1684.7 1339.0 L1686.7 1339.0 L1688.7 1339.0 L1690.7 1339.0 L1692.7 1339.0 L1694.7 1339.0 L1696.7 1339.0 L1698.7 1339.0 L1700.7 1339.0 L1702.7 1339.0 L1704.7 1339.0 L1706.7 1339.0 L1708.7 1339.0 L1710.7 1339.0 L1712.7 1339.0 L1714.7 1339.0 L1716.7 1339.0 L1718.7 1339.0 L1720.7 1339.0 L1722.7 1339.0 L1724.7 1339.0 L1726.7 1339.0 L1728.7 1339.0 L1730.7 1339.0 L1732.7 1339.0 L1734.7 1339.0 L1736.7 1339.0 L1738.7 1339.0 L1740.7 1339.0 L1742.7 1339.0 L1744.7 1339.0 L1746.7 1339.0 L1748.7 1339.0 L1750.7 1339.0 L1752.7 1339.0 L1754.7 1339.0 L1756.7 1339.0 L1758.7 1339.0 L1760.7 1339.0 L1762.7 1339.0 L1764.7 1339.0 L1766.7 1339.0 L1768.7 1339.0 L1770.7 1339.0 L1772.7 1339.0 L1774.7 1339.0 L1776.7 1339.0 L1778.7 1339.0 L1780.7 1339.0 L1782.7 1339.0 L1784.7 1339.0 L1786.7 1339.0 L1788.7 1339.0 L1790.7 1339.0 L1792.7 1339.0 L1794.7 1339.0 L1796.7 1339.0 L1798.7 1339.0 L1800.7 1339.0 L1802.7 1339.0 L1804.7 1339.0 L1806.7 1339.0 L1808.7 1339.0 L1810.7 1339.0 L1812.7 1339.0 L1814.7 1339.0 L1816.7 1339.0 L1818.7 1339.0 L1820.7 1339.0 L1822.7 1339.0 L1824.7 1339.0 L1826.7 1339.0 L1828.7 1339.0 L1830.7 1339.0 L1832.7 1339.0 L1834.7 1339.0 L1836.7 1339.0 L1838.7 1339.0 L1840.7 1339.0 L1842.7 1339.0 L1844.7 1339.0 L1846.7 1339.0 L1848.7 1339.0 L1850.7 1339.0 L1852.7 1339.0 L1854.7 1339.0 L1856.7 1339.0 L1858.7 1339.0 L1860.7 1339.0 L1862.7 1339.0 L1864.7 1339.0 L1866.7 1339.0 L1868.7 1339.0 L1870.7 1339.0 L1872.7 1339.0 L1874.7 1339.0 L1876.7 1339.0 L1878.7 1339.0 L1880.7 1339.0 L1882.7 1339.0 L1884.7 1339.0 L1886.7 1339.0 L1888.7 1339.0 L1890.7 1339.0 L1892.7 1339.0 L1894.7 1339.0 L1896.7 1339.0 L1898.7 1339.0 L1900.7 1339.0 L1902.7 1339.0 L1904.7 1339.0 L1906.7 1339.0 L1908.7 1339.0 L1910.7 1339.0 L1912.7 1339.0 L1914.7 1339.0 L1916.7 1339.0 L1918.7 1339.0 L1920.7 1339.0 L1922.7 1339.0 L1924.7 1339.0 L1926.7 1339.0 L1928.7 1339.0 L1930.7 1339.0 L1932.7 1339.0 L1934.7 1339.0 L1936.7 1339.0 L1938.7 1339.0 L1940.7 1339.0 L1942.7 1339.0 L1944.7 1339.0 L1946.7 1339.0 L1948.7 1339.0 L1950.7 1339.0 L1952.7 1339.0 L1954.7 1339.0 L1956.7 1339.0 L1958.7 1339.0 L1960.7 1339.0 L1962.7 1339.0 L1964.7 1339.0 L1966.7 1339.0 L1968.7 1339.0 L1970.7 1339.0 L1972.7 1339.0 L1974.7 1339.0 L1976.7 1339.0 L1978.7 1339.0 L1980.7 1339.0 L1982.7 1339.0 L1984.7 1339.0 L1986.7 1339.0 L1988.7 1339.0 L1990.7 1339.0 L1992.7 1339.0 L1994.7 1339.0 L1996.7 1339.0 L1998.7 1339.0 L2000.7 1339.0 L2002.7 1339.0 L2004.7 1339.0 L2006.7 1339.0 L2008.7 1339.0 L2010.7 1339.0 L2012.7 1339.0 L2014.7 1339.0 L2016.7 1339.0 L2018.7 1339.0 L2020.7 1339.0 L2022.7 1339.0 L2024.7 1339.0 L2026.7 1339.0 L2028.7 1339.0 L2030.7 1339.0 L2032.7 1339.0 L2034.7 1339.0 L2036.7 1339.0 L2037.9 1339.0"/>
<path stroke="#008000" d="M348.7 1335.8 L350.7 1335.7 L352.7 1335.5 L354.7 1335.4 L356.7 1335.2 L358.7 1335.1 L360.7 1334.9 L362.7 1334.8 L364.7 1334.7 L366.7 1334.5 L368.7 1334.4 L370.7 1334.2 L372.7 1334.1 L374.7 1334.0 L376.7 1333.8 L378.7 1333.7 L380.7 1333.6 L382.7 1333.5 L384.7 1333.3 L386.7 1333.2 L388.7 1333.1 L390.7 1332.9 L392.7 1332.8 L394.7 1332.7 L396.7 1332.6 L398.7 1332.5 L400.7 1332.3 L402.7 1332.2 L404.7 1332.1 L406.7 1332.0 L408.7 1331.9 L410.7 1331.8 L412.7 1331.7 L414.7 1331.5 L416.7 1331.4 L418.7 1331.3 L420.7 1331.2 L422.7 1331.1 L424.7 1331.0 L426.7 1330.8 L428.7 1330.7 L430.7 1330.6 L432.7 1330.5 L434.7 1330.4 L436.7 1330.3 L438.7 1330.2 L440.7 1330.1 L442.7 1330.0 L444.7 1329.8 L446.7 1329.7 L448.7 1329.6 L450.7 1329.6 L452.7 1329.5 L454.7 1329.4 L456.7 1329.3 L458.7 1329.2 L460.7 1329.1 L462.7 1329.0 L464.7 1329.0 L466.7 1328.9 L468.7 1328.8 L470.7 1328.8 L472.7 1328.7 L474.7 1328.7 L476.7 1328.6 L478.7 1328.6 L480.7 1328.5 L482.7 1328.5 L484.7 1328.4 L486.7 1328.4 L488.7 1328.3 L490.7 1328.3 L492.7 1328.2 L494.7 1328.2 L496.7 1328.1 L498.7 1328.1 L500.7 1328.0 L502.7 1328.0 L504.7 1328.0 L506.7 1327.9 L508.7 1327.9 L510.7 1327.9 L512.7 1327.9 L514.7 1327.8 L516.7 1327.8 L518.7 1327.8 L520.7 1327.8 L522.7 1327.8 L524.7 1327.8 L526.7 1327.8 L528.7 1327.8 L530.7 1327.8 L532.7 1327.8 L534.7 1327.8 L536.7 1327.9 L538.7 1327.9 L540.7 1327.9 L542.7 1327.9 L544.7 1327.9 L546.7 1327.9 L548.7 1328.0 L550.7 1328.0 L552.7 1328.0 L554.7 1328.0 L556.7 1328.1 L558.7 1328.1 L560.7 1328.1 L562.7 1328.2 L564.7 1328.2 L566.7 1328.2 L568.7 1328.2 L570.7 1328.3 L572.7 1328.3 L574.7 1328.3 L576.7 1328.3 L578.7 1328.4 L580.7 1328.4 L582.7 1328.4 L584.7 1328.5 L586.7 1328.5 L588.7 1328.6 L590.7 1328.6 L592.7 1328.6 L594.7 1328.7 L596.7 1328.7 L598.7 1328.8 L600.7 1328.8 L602.7 1328.9 L604.7 1328.9 L606.7 1328.9 L608.7 1329.0 L610.7 1329.0 L612.7 1329.1 L614.7 1329.1 L616.7 1329.2 L618.7 1329.2 L620.7 1329.3 L622.7 1329.4 L624.7 1329.4 L626.7 1329.5 L628.7 1329.5 L630.7 1329.6 L632.7 1329.6 L634.7 1329.7 L636.7 1329.7 L638.7 1329.8 L640.7 1329.8 L642.7 1329.9 L644.7 1329.9 L646.7 1330.0 L648.7 1330.0 L650.7 1330.1 L652.7 1330.1 L654.7 1330.2 L656.7 1330.3 L658.7 1330.3 L660.7 1330.4 L662.7 1330.4 L664.7 1330.5 L666.7 1330.6 L668.7 1330.6 L670.7 1330.7 L672.7 1330.8 L674.7 1330.8 L676.7 1330.9 L678.7 1330.9 L680.7 1331.0 L682.7 1331.1 L684.7 1331.1 L686.7 1331.2 L688.7 1331.3 L690.7 1331.3 L692.7 1331.4 L694.7 1331.4 L696.7 1331.5 L698.7 1331.6 L700.7 1331.6 L702.7 1331.7 L704.7 1331.7 L706.7 1331.8 L708.7 1331.9 L710.7 1331.9 L712.7 1332.0 L714.7 1332.0 L716.7 1332.1 L718.7 1332.2 L720.7 1332.2 L722.7 1332.3 L724.7 1332.3 L726.7 1332.4 L728.7 1332.5 L730.7 1332.5 L732.7 1332.6 L734.7 1332.7 L736.7 1332.7 L738.7 1332.8 L740.7 1332.8 L742.7 1332.9 L744.7 1333.0 L746.7 1333.0 L748.7 1333.1 L750.7 1333.2 L752.7 1333.2 L754.7 1333.3 L756.7 1333.4 L758.7 1333.4 L760.7 1333.5 L762.7 1333.5 L764.7 1333.6 L766.7 1333.7 L768.7 1333.7 L770.7 1333.8 L772.7 1333.9 L774.7 1333.9 L776.7 1334.0 L778.7 1334.0 L780.7 1334.1 L782.7 1334.2 L784.7 1334.2 L786.7 1334.3 L788.7 1334.3 L790.7 1334.4 L792.7 1334.5 L794.7 1334.5 L796.7 1334.6 L798.7 1334.6 L800.7 1334.7 L802.7 1334.8 L804.7 1334.8 L806.7 1334.9 L808.7 1334.9 L810.7 1335.0 L812.7 1335.0 L814.7 1335.1 L816.7 1335.1 L818.7 1335.2 L820.7 1335.2 L822.7 1335.3 L824.7 1335.3 L826.7 1335.4 L828.7 1335.4 L830.7 1335.5 L832.7 1335.5 L834.7 1335.6 L836.7 1335.6 L838.7 1335.7 L840.7 1335.7 L842.7 1335.8 L844.7 1335.8 L846.7 1335.8 L848.7 1335.9 L850.7 1335.9 L852.7 1336.0 L854.7 1336.0 L856.7 1336.0 L858.7 1336.1 L860.7 1336.1 L862.7 1336.1 L864.7 1336.2 L866.7 1336.2 L868.7 1336.2 L870.7 1336.3 L872.7 1336.3 L874.7 1336.3 L876.7 1336.4 L878.7 1336.4 L880.7 1336.4 L882.7 1336.4 L884.7 1336.5 L886.7 1336.5 L888.7 1336.5 L890.7 1336.6 L892.7 1336.6 L894.7 1336.6 L896.7 1336.6 L898.7 1336.7 L900.7 1336.7 L902.7 1336.7 L904.7 1336.8 L906.7 1336.8 L908.7 1336.8 L910.7 1336.8 L912.7 1336.9 L914.7 1336.9 L916.7 1336.9 L918.7 1337.0 L920.7 1337.0 L922.7 1337.0 L924.7 1337.0 L926.7 1337.1 L928.7 1337.1 L930.7 1337.1 L932.7 1337.1 L934.7 1337.2 L936.7 1337.2 L938.7 1337.2 L940.7 1337.2 L942.7 1337.3 L944.7 1337.3 L946.7 1337.3 L948.7 1337.3 L950.7 1337.4 L952.7 1337.4 L954.7 1337.4 L956.7 1337.4 L958.7 1337.5 L960.7 1337.5 L962.7 1337.5 L964.7 1337.5 L966.7 1337.6 L968.7 1337.6 L970.7 1337.6 L972.7 1337.6 L974.7 1337.6 L976.7 1337.7 L978.7 1337.7 L980.7 1337.7 L982.7 1337.7 L984.7 1337.7 L986.7 1337.8 L988.7 1337.8 L990.7 1337.8 L992.7 1337.8 L994.7 1337.8 L996.7 1337.8 L998.7 1337.9 L1000.7 1337.9 L1002.7 1337.9 L1004.7 1337.9 L1006.7 1337.9 L1008.7 1337.9 L1010.7 1338.0 L1012.7 1338.0 L1014.7 1338.0 L1016.7 1338.0 L1018.7 1338.0 L1020.7 1338.0 L1022.7 1338.0 L1024.7 1338.1 L1026.7 1338.1 L1028.7 1338.1 L1030.7 1338.1 L1032.7 1338.1 L1034.7 1338.1 L1036.7 1338.1 L1038.7 1338.1 L1040.7 1338.1 L1042.7 1338.1 L1044.7 1338.2 L1046.7 1338.2 L1048.7 1338.2 L1050.7 1338.2 L1052.7 1338.2 L1054.7 1338.2 L1056.7 1338.2 L1058.7 1338.2 L1060.7 1338.2 L1062.7 1338.2 L1064.7 1338.2 L1066.7 1338.2 L1068.7 1338.2 L1070.7 1338.2 L1072.7 1338.2 L1074.7 1338.2 L1076.7 1338.2 L1078.7 1338.2 L1080.7 1338.2 L1082.7 1338.2 L1084.7 1338.3 L1086.7 1338.3 L1088.7 1338.3 L1090.7 1338.3 L1092.7 1338.3 L1094.7 1338.3 L1096.7 1338.3 L1098.7 1338.3 L1100.7 1338.3 L1102.7 1338.3 L1104.7 1338.3 L1106.7 1338.3 L1108.7 1338.3 L1110.7 1338.3 L1112.7 1338.3 L1114.7 1338.3 L1116.7 1338.3 L1118.7 1338.3 L1120.7 1338.3 L1122.7 1338.3 L1124.7 1338.3 L1126.7 1338.3 L1128.7 1338.3 L1130.7 1338.3 L1132.7 1338.3 L1134.7 1338.3 L1136.7 1338.3 L1138.7 1338.3 L1140.7 1338.3 L1142.7 1338.3 L1144.7 1338.4 L1146.7 1338.4 L1148.7 1338.4 L1150.7 1338.4 L1152.7 1338.4 L1154.7 1338.4 L1156.7 1338.4 L1158.7 1338.4 L1160.7 1338.4 L1162.7 1338.4 L1164.7 1338.4 L1166.7 1338.4 L1168.7 1338.4 L1170.7 1338.4 L1172.7 1338.4 L1174.7 1338.4 L1176.7 1338.4 L1178.7 1338.4 L1180.7 1338.4 L1182.7 1338.4 L1184.7 1338.4 L1186.7 1338.4 L1188.7 1338.4 L1190.7 1338.4 L1192.7 1338.4 L1194.7 1338.4 L1196.7 1338.4 L1198.7 1338.4 L1200.7 1338.4 L1202.7 1338.4 L1204.7 1338.4 L1206.7 1338.4 L1208.7 1338.4 L1210.7 1338.4 L1212.7 1338.4 L1214.7 1338.4 L1216.7 1338.4 L1218.7 1338.4 L1220.7 1338.4 L1222.7 1338.4 L1224.7 1338.4 L1226.7 1338.4 L1228.7 1338.4 L1230.7 1338.5 L1232.7 1338.5 L1234.7 1338.5 L1236.7 1338.5 L1238.7 1338.5 L1240.7 1338.5 L1242.7 1338.5 L1244.7 1338.5 L1246.7 1338.5 L1248.7 1338.5 L1250.7 1338.5 L1252.7 1338.5 L1254.7 1338.5 L1256.7 1338.5 L1258.7 1338.5 L1260.7 1338.5 L1262.7 1338.5 L1264.7 1338.5 L1266.7 1338.5 L1268.7 1338.5 L1270.7 1338.5 L1272.7 1338.5 L1274.7 1338.5 L1276.7 1338.5 L1278.7 1338.5 L1280.7 1338.5 L1282.7 1338.5 L1284.7 1338.5 L1286.7 1338.5 L1288.7 1338.5 L1290.7 1338.5 L1292.7 1338.5 L1294.7 1338.5 L1296.7 1338.5 L1298.7 1338.5 L1300.7 1338.5 L1302.7 1338.5 L1304.7 1338.5 L1306.7 1338.5 L1308.7 1338.5 L1310.7 1338.5 L1312.7 1338.5 L1314.7 1338.5 L1316.7 1338.5 L1318.7 1338.5 L1320.7 1338.5 L1322.7 1338.5 L1324.7 1338.5 L1326.7 1338.5 L1328.7 1338.5 L1330.7 1338.5 L1332.7 1338.5 L1334.7 1338.5 L1336.7 1338.5 L1338.7 1338.5 L1340.7 1338.5 L1342.7 1338.5 L1344.7 1338.5 L1346.7 1338.5 L1348.7 1338.5 L1350.7 1338.5 L1352.7 1338.5 L1354.7 1338.5 L1356.7 1338.6 L1358.7 1338.6 L1360.7 1338.6 L1362.7 1338.6 L1364.7 1338.6 L1366.7 1338.6 L1368.7 1338.6 L1370.7 1338.6 L1372.7 1338.6 L1374.7 1338.6 L1376.7 1338.6 L1378.7 1338.6 L1380.7 1338.6 L1382.7 1338.6 L1384.7 1338.6 L1386.7 1338.6 L1388.7 1338.6 L1390.7 1338.6 L1392.7 1338.6 L1394.7 1338.6 L1396.7 1338.6 L1398.7 1338.6 L1400.7 1338.6 L1402.7 1338.6 L1404.7 1338.6 L1406.7 1338.6 L1408.7 1338.6 L1410.7 1338.6 L1412.7 1338.6 L1414.7 1338.6 L1416.7 1338.6 L1418.7 1338.6 L1420.7 1338.6 L1422.7 1338.6 L1424.7 1338.6 L1426.7 1338.6 L1428.7 1338.6 L1430.7 1338.6 L1432.7 1338.6 L1434.7 1338.6 L1436.7 1338.6 L1438.7 1338.6 L1440.7 1338.6 L1442.7 1338.6 L1444.7 1338.6 L1446.7 1338.6 L1448.7 1338.6 L1450.7 1338.6 L1452.7 1338.6 L1454.7 1338.6 L1456.7 1338.6 L1458.7 1338.6 L1460.7 1338.6 L1462.7 1338.6 L1464.7 1338.6 L1466.7 1338.6 L1468.7 1338.6 L1470.7 1338.6 L1472.7 1338.6 L1474.7 1338.7 L1476.7 1338.7 L1478.7 1338.7 L1480.7 1338.7 L1482.7 1338.7 L1484.7 1338.7 L1486.7 1338.7 L1488.7 1338.7 L1490.7 1338.7 L1492.7 1338.7 L1494.7 1338.7 L1496.7 1338.7 L1498.7 1338.7 L1500.7 1338.7 L1502.7 1338.7 L1504.7 1338.7 L1506.7 1338.7 L1508.7 1338.7 L1510.7 1338.7 L1512.7 1338.7 L1514.7 1338.7 L1516.7 1338.7 L1518.7 1338.7 L1520.7 1338.7 L1522.7 1338.7 L1524.7 1338.7 L1526.7 1338.7 L1528.7 1338.7 L1530.7 1338.7 L1532.7 1338.7 L1534.7 1338.7 L1536.7 1338.7 L1538.7 1338.7 L1540.7 1338.7 L1542.7 1338.7 L1544.7 1338.7 L1546.7 1338.7 L1548.7 1338.7 L1550.7 1338.7 L1552.7 1338.7 L1554.7 1338.7 L1556.7 1338.7 L1558.7 1338.7 L1560.7 1338.7 L1562.7 1338.7 L1564.7 1338.7 L1566.7 1338.7 L1568.7 1338.7 L1570.7 1338.7 L1572.7 1338.7 L1574.7 1338.7 L1576.7 1338.7 L1578.7 1338.7 L1580.7 1338.7 L1582.7 1338.7 L1584.7 1338.8 L1586.7 1338.8 L1588.7 1338.8 L1590.7 1338.8 L1592.7 1338.8 L1594.7 1338.8 L1596.7 1338.8 L1598.7 1338.8 L1600.7 1338.8 L1602.7 1338.8 L1604.7 1338.8 L1606.7 1338.8 L1608.7 1338.8 L1610.7 1338.8 L1612.7 1338.8 L1614.7 1338.8 L1616.7 1338.8 L1618.7 1338.8 L1620.7 1338.8 L1622.7 1338.8 L1624.7 1338.8 L1626.7 1338.8 L1628.7 1338.8 L1630.7 1338.8 L1632.7 1338.8 L1634.7 1338.8 L1636.7 1338.8 L1638.7 1338.8 L1640.7 1338.8 L1642.7 1338.8 L1644.7 1338.8 L1646.7 1338.8 L1648.7 1338.8 L1650.7 1338.8 L1652.7 1338.8 L1654.7 1338.8 L1656.7 1338.8 L1658.7 1338.8 L1660.7 1338.8 L1662.7 1338.8 L1664.7 1338.8 L1666.7 1338.8 L1668.7 1338.8 L1670.7 1338.8 L1672.7 1338.8 L1674.7 1338.8 L1676.7 1338.8 L1678.7 1338.8 L1680.7 1338.8 L1682.7 1338.8 L1684.7 1338.8 L1686.7 1338.8 L1688.7 1338.8 L1690.7 1338.8 L1692.7 1338.8 L1694.7 1338.8 L1696.7 1338.8 L1698.7 1338.8 L1700.7 1338.8 L1702.7 1338.8 L1704.7 1338.8 L1706.7 1338.8 L1708.7 1338.8 L1710.7 1338.8 L1712.7 1338.8 L1714.7 1338.8 L1716.7 1338.8 L1718.7 1338.8 L1720.7 1338.8 L1722.7 1338.8 L1724.7 1338.8 L1726.7 1338.8 L1728.7 1338.8 L1730.7 1338.8 L1732.7 1338.8 L1734.7 1338.8 L1736.7 1338.8 L1738.7 1338.8 L1740.7 1338.8 L1742.7 1338.8 L1744.7 1338.8 L1746.7 1338.8 L1748.7 1338.8 L1750.7 1338.8 L1752.7 1338.8 L1754.7 1338.8 L1756.7 1338.8 L1758.7 1338.8 L1760.7 1338.8 L1762.7 1338.8 L1764.7 1338.8 L1766.7 1338.8 L1768.7 1338.8 L1770.7 1338.8 L1772.7 1338.8 L1774.7 1338.8 L1776.7 1338.8 L1778.7 1338.8 L1780.7 1338.8 L1782.7 1338.8 L1784.7 1338.8 L1786.7 1338.8 L1788.7 1338.8 L1790.7 1338.8 L1792.7 1338.8 L1794.7 1338.8 L1796.7 1338.8 L1798.7 1338.8 L1800.7 1338.8 L1802.7 1338.8 L1804.7 1338.8 L1806.7 1338.8 L1808.7 1338.8 L1810.7 1338.8 L1812.7 1338.8 L1814.7 1338.8 L1816.7 1338.8 L1818.7 1338.8 L1820.7 1338.8 L1822.7 1338.8 L1824.7 1338.8 L1826.7 1338.8 L1828.7 1338.8 L1830.7 1338.8 L1832.7 1338.8 L1834.7 1338.8 L1836.7 1338.8 L1838.7 1338.8 L1840.7 1338.8 L1842.7 1338.8 L1844.7 1338.8 L1846.7 1338.8 L1848.7 1338.8 L1850.7 1338.8 L1852.7 1338.8 L1854.7 1338.8 L1856.7 1338.8 L1858.7 1338.8 L1860.7 1338.8 L1862.7 1338.8 L1864.7 1338.8 L1866.7 1338.8 L1868.7 1338.8 L1870.7 1338.8 L1872.7 1338.8 L1874.7 1338.8 L1876.7 1338.8 L1878.7 1338.8 L1880.7 1338.8 L1882.7 1338.8 L1884.7 1338.8 L1886.7 1338.8 L1888.7 1338.8 L1890.7 1338.8 L1892.7 1338.8 L1894.7 1338.8 L1896.7 1338.8 L1898.7 1338.8 L1900.7 1338.8 L1902.7 1338.8 L1904.7 1338.8 L1906.7 1338.8 L1908.7 1338.8 L1910.7 1338.8 L1912.7 1338.8 L1914.7 1338.8 L1916.7 1338.8 L1918.7 1338.8 L1920.7 1338.8 L1922.7 1338.8 L1924.7 1338.8 L1926.7 1338.8 L1928.7 1338.8 L1930.7 1338.8 L1932.7 1338.8 L1934.7 1338.8 L1936.7 1338.8 L1938.7 1338.8 L1940.7 1338.8 L1942.7 1338.8 L1944.7 1338.8 L1946.7 1338.8 L1948.7 1338.8 L1950.7 1338.8 L1952.7 1338.8 L1954.7 1338.8 L1956.7 1338.8 L1958.7 1338.8 L1960.7 1338.8 L1962.7 1338.8 L1964.7 1338.8 L1966.7 1338.8 L1968.7 1338.8 L1970.7 1338.8 L1972.7 1338.8 L1974.7 1338.8 L1976.7 1338.8 L1978.7 1338.8 L1980.7 1338.8 L1982.7 1338.8 L1984.7 1338.8 L1986.7 1338.8 L1988.7 1338.8 L1990.7 1338.8 L1992.7 1338.8 L1994.7 1338.8 L1996.7 1338.8 L1998.7 1338.8 L2000.7 1338.8 L2002.7 1338.8 L2004.7 1338.8 L2006.7 1338.8 L2008.7 1338.8 L2010.7 1338.8 L2012.7 1338.8 L2014.7 1338.8 L2016.7 1338.8 L2018.7 1338.8 L2020.7 1338.8 L2022.7 1338.8 L2024.7 1338.8 L2026.7 1338.8 L2028.7 1338.8 L2030.7 1338.8 L2032.7 1338.8 L2034.7 1338.8 L2036.7 1338.8 L2037.9 1338.8"/>
<path stroke="#ff8000" d="M348.7 1307.4 L350.7 1306.7 L352.7 1306.1 L354.7 1305.5 L356.7 1304.9 L358.7 1304.3 L360.7 1303.7 L362.7 1303.1 L364.7 1302.5 L366.7 1302.0 L368.7 1301.4 L370.7 1300.9 L372.7 1300.3 L374.7 1299.8 L376.7 1299.3 L378.7 1298.8 L380.7 1298.3 L382.7 1297.8 L384.7 1297.3 L386.7 1296.9 L388.7 1296.4 L390.7 1296.0 L392.7 1295.5 L394.7 1295.1 L396.7 1294.7 L398.7 1294.3 L400.7 1293.9 L402.7 1293.5 L404.7 1293.1 L406.7 1292.7 L408.7 1292.4 L410.7 1292.0 L412.7 1291.6 L414.7 1291.3 L416.7 1291.0 L418.7 1290.6 L420.7 1290.3 L422.7 1290.0 L424.7 1289.7 L426.7 1289.4 L428.7 1289.1 L430.7 1288.8 L432.7 1288.5 L434.7 1288.2 L436.7 1288.0 L438.7 1287.7 L440.7 1287.4 L442.7 1287.2 L444.7 1286.9 L446.7 1286.7 L448.7 1286.5 L450.7 1286.2 L452.7 1286.0 L454.7 1285.8 L456.7 1285.6 L458.7 1285.4 L460.7 1285.2 L462.7 1285.0 L464.7 1284.8 L466.7 1284.6 L468.7 1284.4 L470.7 1284.2 L472.7 1284.0 L474.7 1283.9 L476.7 1283.7 L478.7 1283.5 L480.7 1283.4 L482.7 1283.2 L484.7 1283.1 L486.7 1282.9 L488.7 1282.8 L490.7 1282.6 L492.7 1282.5 L494.7 1282.3 L496.7 1282.2 L498.7 1282.1 L500.7 1281.9 L502.7 1281.8 L504.7 1281.7 L506.7 1281.5 L508.7 1281.4 L510.7 1281.3 L512.7 1281.2 L514.7 1281.1 L516.7 1281.0 L518.7 1280.8 L520.7 1280.7 L522.7 1280.6 L524.7 1280.5 L526.7 1280.4 L528.7 1280.3 L530.7 1280.2 L532.7 1280.1 L534.7 1280.0 L536.7 1279.9 L538.7 1279.8 L540.7 1279.7 L542.7 1279.5 L544.7 1279.4 L546.7 1279.3 L548.7 1279.2 L550.7 1279.1 L552.7 1279.0 L554.7 1278.9 L556.7 1278.8 L558.7 1278.7 L560.7 1278.6 L562.7 1278.5 L564.7 1278.4 L566.7 1278.2 L568.7 1278.1 L570.7 1278.0 L572.7 1277.9 L574.7 1277.8 L576.7 1277.6 L578.7 1277.5 L580.7 1277.4 L582.7 1277.3 L584.7 1277.1 L586.7 1277.0 L588.7 1276.9 L590.7 1276.7 L592.7 1276.6 L594.7 1276.4 L596.7 1276.3 L598.7 1276.1 L600.7 1276.0 L602.7 1275.8 L604.7 1275.6 L606.7 1275.5 L608.7 1275.3 L610.7 1275.1 L612.7 1275.0 L614.7 1274.8 L616.7 1274.6 L618.7 1274.4 L620.7 1274.2 L622.7 1274.0 L624.7 1273.8 L626.7 1273.6 L628.7 1273.4 L630.7 1273.1 L632.7 1272.9 L634.7 1272.7 L636.7 1272.4 L638.7 1272.2 L640.7 1272.0 L642.7 1271.7 L644.7 1271.4 L646.7 1271.2 L648.7 1270.9 L650.7 1270.6 L652.7 1270.3 L654.7 1270.0 L656.7 1269.7 L658.7 1269.4 L660.7 1269.1 L662.7 1268.8 L664.7 1268.5 L666.7 1268.1 L668.7 1267.8 L670.7 1267.4 L672.7 1267.1 L674.7 1266.7 L676.7 1266.4 L678.7 1266.0 L680.7 1265.6 L682.7 1265.2 L684.7 1264.8 L686.7 1264.4 L688.7 1263.9 L690.7 1263.5 L692.7 1263.1 L694.7 1262.6 L696.7 1262.2 L698.7 1261.7 L700.7 1261.2 L702.7 1260.7 L704.7 1260.2 L706.7 1259.7 L708.7 1259.2 L710.7 1258.7 L712.7 1258.1 L714.7 1257.6 L716.7 1257.0 L718.7 1256.5 L720.7 1255.9 L722.7 1255.3 L724.7 1254.7 L726.7 1254.1 L728.7 1253.5 L730.7 1252.9 L732.7 1252.2 L734.7 1251.6 L736.7 1250.9 L738.7 1250.2 L740.7 1249.5 L742.7 1248.8 L744.7 1248.1 L746.7 1247.4 L748.7 1246.7 L750.7 1245.9 L752.7 1245.1 L754.7 1244.4 L756.7 1243.6 L758.7 1242.8 L760.7 1242.0 L762.7 1241.1 L764.7 1240.3 L766.7 1239.5 L768.7 1238.6 L770.7 1237.7 L772.7 1236.8 L774.7 1235.9 L776.7 1235.0 L778.7 1234.1 L780.7 1233.1 L782.7 1232.2 L784.7 1231.2 L786.7 1230.3 L788.7 1229.3 L790.7 1228.3 L792.7 1227.3 L794.7 1226.3 L796.7 1225.3 L798.7 1224.3 L800.7 1223.2 L802.7 1222.2 L804.7 1221.1 L806.7 1220.1 L808.7 1219.0 L810.7 1218.0 L812.7 1216.9 L814.7 1215.8 L816.7 1214.8 L818.7 1213.7 L820.7 1212.6 L822.7 1211.5 L824.7 1210.4 L826.7 1209.3 L828.7 1208.2 L830.7 1207.1 L832.7 1206.0 L834.7 1204.9 L836.7 1203.8 L838.7 1202.7 L840.7 1201.5 L842.7 1200.4 L844.7 1199.3 L846.7 1198.2 L848.7 1197.1 L850.7 1196.0 L852.7 1194.9 L854.7 1193.8 L856.7 1192.7 L858.7 1191.6 L860.7 1190.5 L862.7 1189.4 L864.7 1188.3 L866.7 1187.2 L868.7 1186.1 L870.7 1185.0 L872.7 1184.0 L874.7 1182.9 L876.7 1181.8 L878.7 1180.8 L880.7 1179.7 L882.7 1178.7 L884.7 1177.7 L886.7 1176.6 L888.7 1175.6 L890.7 1174.6 L892.7 1173.6 L894.7 1172.6 L896.7 1171.6 L898.7 1170.6 L900.7 1169.7 L902.7 1168.7 L904.7 1167.8 L906.7 1166.8 L908.7 1165.9 L910.7 1165.0 L912.7 1164.1 L914.7 1163.2 L916.7 1162.3 L918.7 1161.5 L920.7 1160.6 L922.7 1159.8 L924.7 1159.0 L926.7 1158.2 L928.7 1157.4 L930.7 1156.6 L932.7 1155.8 L934.7 1155.1 L936.7 1154.4 L938.7 1153.7 L940.7 1153.0 L942.7 1152.3 L944.7 1151.6 L946.7 1151.0 L948.7 1150.3 L950.7 1149.7 L952.7 1149.1 L954.7 1148.5 L956.7 1148.0 L958.7 1147.4 L960.7 1146.9 L962.7 1146.3 L964.7 1145.8 L966.7 1145.3 L968.7 1144.9 L970.7 1144.4 L972.7 1143.9 L974.7 1143.5 L976.7 1143.1 L978.7 1142.7 L980.7 1142.3 L982.7 1141.9 L984.7 1141.6 L986.7 1141.2 L988.7 1140.9 L990.7 1140.6 L992.7 1140.3 L994.7 1140.0 L996.7 1139.7 L998.7 1139.4 L1000.7 1139.2 L1002.7 1139.0 L1004.7 1138.8 L1006.7 1138.6 L1008.7 1138.4 L1010.7 1138.2 L1012.7 1138.0 L1014.7 1137.9 L1016.7 1137.8 L1018.7 1137.6 L1020.7 1137.5 L1022.7 1137.4 L1024.7 1137.4 L1026.7 1137.3 L1028.7 1137.3 L1030.7 1137.2 L1032.7 1137.2 L1034.7 1137.2 L1036.7 1137.2 L1038.7 1137.2 L1040.7 1137.2 L1042.7 1137.3 L1044.7 1137.3 L1046.7 1137.4 L1048.7 1137.5 L1050.7 1137.6 L1052.7 1137.7 L1054.7 1137.8 L1056.7 1138.0 L1058.7 1138.1 L1060.7 1138.3 L1062.7 1138.4 L1064.7 1138.6 L1066.7 1138.8 L1068.7 1139.0 L1070.7 1139.3 L1072.7 1139.5 L1074.7 1139.7 L1076.7 1140.0 L1078.7 1140.3 L1080.7 1140.6 L1082.7 1140.8 L1084.7 1141.2 L1086.7 1141.5 L1088.7 1141.8 L1090.7 1142.2 L1092.7 1142.5 L1094.7 1142.9 L1096.7 1143.3 L1098.7 1143.7 L1100.7 1144.1 L1102.7 1144.5 L1104.7 1144.9 L1106.7 1145.3 L1108.7 1145.8 L1110.7 1146.2 L1112.7 1146.7 L1114.7 1147.2 L1116.7 1147.7 L1118.7 1148.2 L1120.7 1148.7 L1122.7 1149.2 L1124.7 1149.7 L1126.7 1150.3 L1128.7 1150.8 L1130.7 1151.4 L1132.7 1151.9 L1134.7 1152.5 L1136.7 1153.1 L1138.7 1153.7 L1140.7 1154.3 L1142.7 1154.9 L1144.7 1155.5 L1146.7 1156.2 L1148.7 1156.8 L1150.7 1157.4 L1152.7 1158.1 L1154.7 1158.7 L1156.7 1159.4 L1158.7 1160.1 L1160.7 1160.8 L1162.7 1161.4 L1164.7 1162.1 L1166.7 1162.8 L1168.7 1163.5 L1170.7 1164.3 L1172.7 1165.0 L1174.7 1165.7 L1176.7 1166.4 L1178.7 1167.2 L1180.7 1167.9 L1182.7 1168.7 L1184.7 1169.4 L1186.7 1170.2 L1188.7 1170.9 L1190.7 1171.7 L1192.7 1172.5 L1194.7 1173.3 L1196.7 1174.1 L1198.7 1174.8 L1200.7 1175.6 L1202.7 1176.4 L1204.7 1177.2 L1206.7 1178.0 L1208.7 1178.8 L1210.7 1179.7 L1212.7 1180.5 L1214.7 1181.3 L1216.7 1182.1 L1218.7 1182.9 L1220.7 1183.8 L1222.7 1184.6 L1224.7 1185.4 L1226.7 1186.3 L1228.7 1187.1 L1230.7 1188.0 L1232.7 1188.8 L1234.7 1189.6 L1236.7 1190.5 L1238.7 1191.3 L1240.7 1192.2 L1242.7 1193.0 L1244.7 1193.9 L1246.7 1194.7 L1248.7 1195.6 L1250.7 1196.5 L1252.7 1197.3 L1254.7 1198.2 L1256.7 1199.0 L1258.7 1199.9 L1260.7 1200.7 L1262.7 1201.6 L1264.7 1202.4 L1266.7 1203.3 L1268.7 1204.2 L1270.7 1205.0 L1272.7 1205.9 L1274.7 1206.7 L1276.7 1207.6 L1278.7 1208.4 L1280.7 1209.3 L1282.7 1210.1 L1284.7 1211.0 L1286.7 1211.8 L1288.7 1212.6 L1290.7 1213.5 L1292.7 1214.3 L1294.7 1215.2 L1296.7 1216.0 L1298.7 1216.8 L1300.7 1217.7 L1302.7 1218.5 L1304.7 1219.3 L1306.7 1220.1 L1308.7 1220.9 L1310.7 1221.7 L1312.7 1222.6 L1314.7 1223.4 L1316.7 1224.2 L1318.7 1225.0 L1320.7 1225.7 L1322.7 1226.5 L1324.7 1227.3 L1326.7 1228.1 L1328.7 1228.9 L1330.7 1229.6 L1332.7 1230.4 L1334.7 1231.2 L1336.7 1231.9 L1338.7 1232.7 L1340.7 1233.4 L1342.7 1234.2 L1344.7 1234.9 L1346.7 1235.6 L1348.7 1236.4 L1350.7 1237.1 L1352.7 1237.8 L1354.7 1238.5 L1356.7 1239.2 L1358.7 1239.9 L1360.7 1240.6 L1362.7 1241.3 L1364.7 1242.0 L1366.7 1242.7 L1368.7 1243.4 L1370.7 1244.1 L1372.7 1244.7 L1374.7 1245.4 L1376.7 1246.1 L1378.7 1246.7 L1380.7 1247.4 L1382.7 1248.0 L1384.7 1248.7 L1386.7 1249.3 L1388.7 1250.0 L1390.7 1250.6 L1392.7 1251.2 L1394.7 1251.9 L1396.7 1252.5 L1398.7 1253.1 L1400.7 1253.7 L1402.7 1254.3 L1404.7 1255.0 L1406.7 1255.6 L1408.7 1256.2 L1410.7 1256.8 L1412.7 1257.4 L1414.7 1257.9 L1416.7 1258.5 L1418.7 1259.1 L1420.7 1259.7 L1422.7 1260.3 L1424.7 1260.8 L1426.7 1261.4 L1428.7 1262.0 L1430.7 1262.5 L1432.7 1263.1 L1434.7 1263.6 L1436.7 1264.2 L1438.7 1264.7 L1440.7 1265.3 L1442.7 1265.8 L1444.7 1266.3 L1446.7 1266.9 L1448.7 1267.4 L1450.7 1267.9 L1452.7 1268.5 L1454.7 1269.0 L1456.7 1269.5 L1458.7 1270.0 L1460.7 1270.5 L1462.7 1271.0 L1464.7 1271.5 L1466.7 1272.0 L1468.7 1272.5 L1470.7 1273.0 L1472.7 1273.5 L1474.7 1274.0 L1476.7 1274.5 L1478.7 1274.9 L1480.7 1275.4 L1482.7 1275.9 L1484.7 1276.4 L1486.7 1276.8 L1488.7 1277.3 L1490.7 1277.7 L1492.7 1278.2 L1494.7 1278.7 L1496.7 1279.1 L1498.7 1279.6 L1500.7 1280.0 L1502.7 1280.5 L1504.7 1280.9 L1506.7 1281.3 L1508.7 1281.8 L1510.7 1282.2 L1512.7 1282.6 L1514.7 1283.1 L1516.7 1283.5 L1518.7 1283.9 L1520.7 1284.3 L1522.7 1284.7 L1524.7 1285.2 L1526.7 1285.6 L1528.7 1286.0 L1530.7 1286.4 L1532.7 1286.8 L1534.7 1287.2 L1536.7 1287.6 L1538.7 1288.0 L1540.7 1288.4 L1542.7 1288.8 L1544.7 1289.2 L1546.7 1289.6 L1548.7 1289.9 L1550.7 1290.3 L1552.7 1290.7 L1554.7 1291.1 L1556.7 1291.5 L1558.7 1291.8 L1560.7 1292.2 L1562.7 1292.6 L1564.7 1292.9 L1566.7 1293.3 L1568.7 1293.7 L1570.7 1294.0 L1572.7 1294.4 L1574.7 1294.8 L1576.7 1295.1 L1578.7 1295.5 L1580.7 1295.8 L1582.7 1296.2 L1584.7 1296.5 L1586.7 1296.8 L1588.7 1297.2 L1590.7 1297.5 L1592.7 1297.9 L1594.7 1298.2 L1596.7 1298.5 L1598.7 1298.9 L1600.7 1299.2 L1602.7 1299.5 L1604.7 1299.8 L1606.7 1300.2 L1608.7 1300.5 L1610.7 1300.8 L1612.7 1301.1 L1614.7 1301.4 L1616.7 1301.8 L1618.7 1302.1 L1620.7 1302.4 L1622.7 1302.7 L1624.7 1303.0 L1626.7 1303.3 L1628.7 1303.6 L1630.7 1303.9 L1632.7 1304.2 L1634.7 1304.5 L1636.7 1304.8 L1638.7 1305.1 L1640.7 1305.4 L1642.7 1305.6 L1644.7 1305.9 L1646.7 1306.2 L1648.7 1306.5 L1650.7 1306.8 L1652.7 1307.1 L1654.7 1307.3 L1656.7 1307.6 L1658.7 1307.9 L1660.7 1308.2 L1662.7 1308.4 L1664.7 1308.7 L1666.7 1309.0 L1668.7 1309.2 L1670.7 1309.5 L1672.7 1309.7 L1674.7 1310.0 L1676.7 1310.3 L1678.7 1310.5 L1680.7 1310.8 L1682.7 1311.0 L1684.7 1311.3 L1686.7 1311.5 L1688.7 1311.8 L1690.7 1312.0 L1692.7 1312.2 L1694.7 1312.5 L1696.7 1312.7 L1698.7 1313.0 L1700.7 1313.2 L1702.7 1313.4 L1704.7 1313.7 L1706.7 1313.9 L1708.7 1314.1 L1710.7 1314.3 L1712.7 1314.6 L1714.7 1314.8 L1716.7 1315.0 L1718.7 1315.2 L1720.7 1315.4 L1722.7 1315.7 L1724.7 1315.9 L1726.7 1316.1 L1728.7 1316.3 L1730.7 1316.5 L1732.7 1316.7 L1734.7 1316.9 L1736.7 1317.1 L1738.7 1317.3 L1740.7 1317.5 L1742.7 1317.7 L1744.7 1317.9 L1746.7 1318.1 L1748.7 1318.3 L1750.7 1318.5 L1752.7 1318.7 L1754.7 1318.9 L1756.7 1319.1 L1758.7 1319.3 L1760.7 1319.5 L1762.7 1319.7 L1764.7 1319.9 L1766.7 1320.0 L1768.7 1320.2 L1770.7 1320.4 L1772.7 1320.6 L1774.7 1320.8 L1776.7 1320.9 L1778.7 1321.1 L1780.7 1321.3 L1782.7 1321.4 L1784.7 1321.6 L1786.7 1321.8 L1788.7 1322.0 L1790.7 1322.1 L1792.7 1322.3 L1794.7 1322.4 L1796.7 1322.6 L1798.7 1322.8 L1800.7 1322.9 L1802.7 1323.1 L1804.7 1323.2 L1806.7 1323.4 L1808.7 1323.5 L1810.7 1323.7 L1812.7 1323.8 L1814.7 1324.0 L1816.7 1324.1 L1818.7 1324.3 L1820.7 1324.4 L1822.7 1324.6 L1824.7 1324.7 L1826.7 1324.9 L1828.7 1325.0 L1830.7 1325.1 L1832.7 1325.3 L1834.7 1325.4 L1836.7 1325.6 L1838.7 1325.7 L1840.7 1325.8 L1842.7 1326.0 L1844.7 1326.1 L1846.7 1326.2 L1848.7 1326.3 L1850.7 1326.5 L1852.7 1326.6 L1854.7 1326.7 L1856.7 1326.8 L1858.7 1327.0 L1860.7 1327.1 L1862.7 1327.2 L1864.7 1327.3 L1866.7 1327.4 L1868.7 1327.6 L1870.7 1327.7 L1872.7 1327.8 L1874.7 1327.9 L1876.7 1328.0 L1878.7 1328.1 L1880.7 1328.2 L1882.7 1328.4 L1884.7 1328.5 L1886.7 1328.6 L1888.7 1328.7 L1890.7 1328.8 L1892.7 1328.9 L1894.7 1329.0 L1896.7 1329.1 L1898.7 1329.2 L1900.7 1329.3 L1902.7 1329.4 L1904.7 1329.5 L1906.7 1329.6 L1908.7 1329.7 L1910.7 1329.8 L1912.7 1329.9 L1914.7 1330.0 L1916.7 1330.1 L1918.7 1330.1 L1920.7 1330.2 L1922.7 1330.3 L1924.7 1330.4 L1926.7 1330.5 L1928.7 1330.6 L1930.7 1330.7 L1932.7 1330.8 L1934.7 1330.8 L1936.7 1330.9 L1938.7 1331.0 L1940.7 1331.1 L1942.7 1331.2 L1944.7 1331.3 L1946.7 1331.3 L1948.7 1331.4 L1950.7 1331.5 L1952.7 1331.6 L1954.7 1331.6 L1956.7 1331.7 L1958.7 1331.8 L1960.7 1331.9 L1962.7 1331.9 L1964.7 1332.0 L1966.7 1332.1 L1968.7 1332.1 L1970.7 1332.2 L1972.7 1332.3 L1974.7 1332.4 L1976.7 1332.4 L1978.7 1332.5 L1980.7 1332.6 L1982.7 1332.6 L1984.7 1332.7 L1986.7 1332.7 L1988.7 1332.8 L1990.7 1332.9 L1992.7 1332.9 L1994.7 1333.0 L1996.7 1333.1 L1998.7 1333.1 L2000.7 1333.2 L2002.7 1333.2 L2004.7 1333.3 L2006.7 1333.4 L2008.7 1333.4 L2010.7 1333.5 L2012.7 1333.5 L2014.7 1333.6 L2016.7 1333.6 L2018.7 1333.7 L2020.7 1333.7 L2022.7 1333.8 L2024.7 1333.8 L2026.7 1333.9 L2028.7 1333.9 L2030.7 1334.0 L2032.7 1334.0 L2034.7 1334.1 L2036.7 1334.1 L2037.9 1334.2"/>
<path stroke="#9000ff" d="M348.7 1307.2 L350.7 1306.8 L352.7 1306.3 L354.7 1305.8 L356.7 1305.4 L358.7 1304.8 L360.7 1304.3 L362.7 1303.8 L364.7 1303.2 L366.7 1302.7 L368.7 1302.1 L370.7 1301.5 L372.7 1300.9 L374.7 1300.2 L376.7 1299.6 L378.7 1298.9 L380.7 1298.2 L382.7 1297.6 L384.7 1296.8 L386.7 1296.1 L388.7 1295.4 L390.7 1294.7 L392.7 1293.9 L394.7 1293.1 L396.7 1292.3 L398.7 1291.5 L400.7 1290.7 L402.7 1289.9 L404.7 1289.1 L406.7 1288.2 L408.7 1287.4 L410.7 1286.5 L412.7 1285.6 L414.7 1284.8 L416.7 1283.9 L418.7 1283.0 L420.7 1282.1 L422.7 1281.1 L424.7 1280.2 L426.7 1279.3 L428.7 1278.3 L430.7 1277.3 L432.7 1276.4 L434.7 1275.4 L436.7 1274.4 L438.7 1273.4 L440.7 1272.4 L442.7 1271.4 L444.7 1270.4 L446.7 1269.4 L448.7 1268.4 L450.7 1267.4 L452.7 1266.3 L454.7 1265.3 L456.7 1264.3 L458.7 1263.2 L460.7 1262.2 L462.7 1261.1 L464.7 1260.0 L466.7 1259.0 L468.7 1257.9 L470.7 1256.8 L472.7 1255.8 L474.7 1254.7 L476.7 1253.6 L478.7 1252.5 L480.7 1251.5 L482.7 1250.4 L484.7 1249.3 L486.7 1248.2 L488.7 1247.1 L490.7 1246.0 L492.7 1244.9 L494.7 1243.8 L496.7 1242.7 L498.7 1241.7 L500.7 1240.6 L502.7 1239.5 L504.7 1238.4 L506.7 1237.3 L508.7 1236.2 L510.7 1235.1 L512.7 1234.0 L514.7 1233.0 L516.7 1231.9 L518.7 1230.8 L520.7 1229.7 L522.7 1228.7 L524.7 1227.6 L526.7 1226.5 L528.7 1225.5 L530.7 1224.4 L532.7 1223.4 L534.7 1222.3 L536.7 1221.3 L538.7 1220.3 L540.7 1219.2 L542.7 1218.2 L544.7 1217.2 L546.7 1216.2 L548.7 1215.2 L550.7 1214.2 L552.7 1213.2 L554.7 1212.2 L556.7 1211.2 L558.7 1210.2 L560.7 1209.3 L562.7 1208.3 L564.7 1207.4 L566.7 1206.4 L568.7 1205.5 L570.7 1204.5 L572.7 1203.6 L574.7 1202.7 L576.7 1201.8 L578.7 1200.9 L580.7 1200.0 L582.7 1199.1 L584.7 1198.2 L586.7 1197.4 L588.7 1196.5 L590.7 1195.6 L592.7 1194.8 L594.7 1194.0 L596.7 1193.1 L598.7 1192.3 L600.7 1191.5 L602.7 1190.7 L604.7 1189.9 L606.7 1189.1 L608.7 1188.4 L610.7 1187.6 L612.7 1186.8 L614.7 1186.1 L616.7 1185.4 L618.7 1184.6 L620.7 1183.9 L622.7 1183.2 L624.7 1182.5 L626.7 1181.9 L628.7 1181.2 L630.7 1180.5 L632.7 1179.9 L634.7 1179.2 L636.7 1178.6 L638.7 1178.0 L640.7 1177.4 L642.7 1176.8 L644.7 1176.2 L646.7 1175.7 L648.7 1175.1 L650.7 1174.6 L652.7 1174.0 L654.7 1173.5 L656.7 1173.0 L658.7 1172.5 L660.7 1172.0 L662.7 1171.6 L664.7 1171.1 L666.7 1170.7 L668.7 1170.2 L670.7 1169.8 L672.7 1169.4 L674.7 1169.0 L676.7 1168.6 L678.7 1168.3 L680.7 1167.9 L682.7 1167.6 L684.7 1167.3 L686.7 1167.0 L688.7 1166.7 L690.7 1166.4 L692.7 1166.1 L694.7 1165.9 L696.7 1165.6 L698.7 1165.4 L700.7 1165.2 L702.7 1165.0 L704.7 1164.8 L706.7 1164.7 L708.7 1164.5 L710.7 1164.4 L712.7 1164.3 L714.7 1164.2 L716.7 1164.1 L718.7 1164.0 L720.7 1164.0 L722.7 1163.9 L724.7 1163.9 L726.7 1163.9 L728.7 1163.9 L730.7 1163.9 L732.7 1163.9 L734.7 1163.9 L736.7 1164.0 L738.7 1164.1 L740.7 1164.1 L742.7 1164.2 L744.7 1164.3 L746.7 1164.4 L748.7 1164.6 L750.7 1164.7 L752.7 1164.9 L754.7 1165.0 L756.7 1165.2 L758.7 1165.4 L760.7 1165.6 L762.7 1165.8 L764.7 1166.1 L766.7 1166.3 L768.7 1166.5 L770.7 1166.8 L772.7 1167.1 L774.7 1167.4 L776.7 1167.7 L778.7 1168.0 L780.7 1168.3 L782.7 1168.6 L784.7 1169.0 L786.7 1169.3 L788.7 1169.7 L790.7 1170.1 L792.7 1170.5 L794.7 1170.9 L796.7 1171.3 L798.7 1171.7 L800.7 1172.1 L802.7 1172.6 L804.7 1173.0 L806.7 1173.5 L808.7 1173.9 L810.7 1174.4 L812.7 1174.9 L814.7 1175.4 L816.7 1175.9 L818.7 1176.4 L820.7 1177.0 L822.7 1177.5 L824.7 1178.0 L826.7 1178.6 L828.7 1179.2 L830.7 1179.7 L832.7 1180.3 L834.7 1180.9 L836.7 1181.5 L838.7 1182.1 L840.7 1182.7 L842.7 1183.3 L844.7 1184.0 L846.7 1184.6 L848.7 1185.3 L850.7 1185.9 L852.7 1186.6 L854.7 1187.3 L856.7 1187.9 L858.7 1188.6 L860.7 1189.3 L862.7 1190.0 L864.7 1190.7 L866.7 1191.4 L868.7 1192.2 L870.7 1192.9 L872.7 1193.6 L874.7 1194.4 L876.7 1195.1 L878.7 1195.9 L880.7 1196.6 L882.7 1197.4 L884.7 1198.2 L886.7 1198.9 L888.7 1199.7 L890.7 1200.5 L892.7 1201.3 L894.7 1202.1 L896.7 1202.9 L898.7 1203.7 L900.7 1204.5 L902.7 1205.3 L904.7 1206.1 L906.7 1206.9 L908.7 1207.7 L910.7 1208.5 L912.7 1209.4 L914.7 1210.2 L916.7 1211.0 L918.7 1211.8 L920.7 1212.7 L922.7 1213.5 L924.7 1214.3 L926.7 1215.2 L928.7 1216.0 L930.7 1216.8 L932.7 1217.7 L934.7 1218.5 L936.7 1219.3 L938.7 1220.2 L940.7 1221.0 L942.7 1221.8 L944.7 1222.7 L946.7 1223.5 L948.7 1224.3 L950.7 1225.2 L952.7 1226.0 L954.7 1226.8 L956.7 1227.7 L958.7 1228.5 L960.7 1229.3 L962.7 1230.1 L964.7 1230.9 L966.7 1231.8 L968.7 1232.6 L970.7 1233.4 L972.7 1234.2 L974.7 1235.0 L976.7 1235.8 L978.7 1236.6 L980.7 1237.4 L982.7 1238.1 L984.7 1238.9 L986.7 1239.7 L988.7 1240.5 L990.7 1241.2 L992.7 1242.0 L994.7 1242.8 L996.7 1243.5 L998.7 1244.3 L1000.7 1245.0 L1002.7 1245.7 L1004.7 1246.5 L1006.7 1247.2 L1008.7 1247.9 L1010.7 1248.7 L1012.7 1249.4 L1014.7 1250.1 L1016.7 1250.8 L1018.7 1251.5 L1020.7 1252.2 L1022.7 1252.9 L1024.7 1253.6 L1026.7 1254.3 L1028.7 1255.0 L1030.7 1255.6 L1032.7 1256.3 L1034.7 1257.0 L1036.7 1257.6 L1038.7 1258.3 L1040.7 1259.0 L1042.7 1259.6 L1044.7 1260.3 L1046.7 1260.9 L1048.7 1261.6 L1050.7 1262.2 L1052.7 1262.8 L1054.7 1263.4 L1056.7 1264.1 L1058.7 1264.7 L1060.7 1265.3 L1062.7 1265.9 L1064.7 1266.5 L1066.7 1267.1 L1068.7 1267.7 L1070.7 1268.3 L1072.7 1268.9 L1074.7 1269.5 L1076.7 1270.1 L1078.7 1270.7 L1080.7 1271.3 L1082.7 1271.8 L1084.7 1272.4 L1086.7 1273.0 L1088.7 1273.5 L1090.7 1274.1 L1092.7 1274.6 L1094.7 1275.2 L1096.7 1275.7 L1098.7 1276.3 L1100.7 1276.8 L1102.7 1277.3 L1104.7 1277.9 L1106.7 1278.4 L1108.7 1278.9 L1110.7 1279.5 L1112.7 1280.0 L1114.7 1280.5 L1116.7 1281.0 L1118.7 1281.5 L1120.7 1282.0 L1122.7 1282.5 L1124.7 1283.0 L1126.7 1283.5 L1128.7 1284.0 L1130.7 1284.5 L1132.7 1284.9 L1134.7 1285.4 L1136.7 1285.9 L1138.7 1286.4 L1140.7 1286.8 L1142.7 1287.3 L1144.7 1287.8 L1146.7 1288.2 L1148.7 1288.7 L1150.7 1289.1 L1152.7 1289.6 L1154.7 1290.0 L1156.7 1290.5 L1158.7 1290.9 L1160.7 1291.3 L1162.7 1291.8 L1164.7 1292.2 L1166.7 1292.6 L1168.7 1293.0 L1170.7 1293.5 L1172.7 1293.9 L1174.7 1294.3 L1176.7 1294.7 L1178.7 1295.1 L1180.7 1295.5 L1182.7 1295.9 L1184.7 1296.3 L1186.7 1296.7 L1188.7 1297.1 L1190.7 1297.5 L1192.7 1297.8 L1194.7 1298.2 L1196.7 1298.6 L1198.7 1299.0 L1200.7 1299.4 L1202.7 1299.7 L1204.7 1300.1 L1206.7 1300.5 L1208.7 1300.8 L1210.7 1301.2 L1212.7 1301.5 L1214.7 1301.9 L1216.7 1302.2 L1218.7 1302.6 L1220.7 1302.9 L1222.7 1303.3 L1224.7 1303.6 L1226.7 1303.9 L1228.7 1304.3 L1230.7 1304.6 L1232.7 1304.9 L1234.7 1305.3 L1236.7 1305.6 L1238.7 1305.9 L1240.7 1306.2 L1242.7 1306.5 L1244.7 1306.8 L1246.7 1307.1 L1248.7 1307.5 L1250.7 1307.8 L1252.7 1308.1 L1254.7 1308.4 L1256.7 1308.7 L1258.7 1308.9 L1260.7 1309.2 L1262.7 1309.5 L1264.7 1309.8 L1266.7 1310.1 L1268.7 1310.4 L1270.7 1310.7 L1272.7 1310.9 L1274.7 1311.2 L1276.7 1311.5 L1278.7 1311.8 L1280.7 1312.0 L1282.7 1312.3 L1284.7 1312.5 L1286.7 1312.8 L1288.7 1313.1 L1290.7 1313.3 L1292.7 1313.6 L1294.7 1313.8 L1296.7 1314.1 L1298.7 1314.3 L1300.7 1314.6 L1302.7 1314.8 L1304.7 1315.1 L1306.7 1315.3 L1308.7 1315.5 L1310.7 1315.8 L1312.7 1316.0 L1314.7 1316.2 L1316.7 1316.5 L1318.7 1316.7 L1320.7 1316.9 L1322.7 1317.1 L1324.7 1317.3 L1326.7 1317.6 L1328.7 1317.8 L1330.7 1318.0 L1332.7 1318.2 L1334.7 1318.4 L1336.7 1318.6 L1338.7 1318.8 L1340.7 1319.0 L1342.7 1319.2 L1344.7 1319.4 L1346.7 1319.6 L1348.7 1319.8 L1350.7 1320.0 L1352.7 1320.2 L1354.7 1320.4 L1356.7 1320.6 L1358.7 1320.8 L1360.7 1321.0 L1362.7 1321.2 L1364.7 1321.3 L1366.7 1321.5 L1368.7 1321.7 L1370.7 1321.9 L1372.7 1322.1 L1374.7 1322.2 L1376.7 1322.4 L1378.7 1322.6 L1380.7 1322.8 L1382.7 1322.9 L1384.7 1323.1 L1386.7 1323.3 L1388.7 1323.4 L1390.7 1323.6 L1392.7 1323.7 L1394.7 1323.9 L1396.7 1324.1 L1398.7 1324.2 L1400.7 1324.4 L1402.7 1324.5 L1404.7 1324.7 L1406.7 1324.8 L1408.7 1325.0 L1410.7 1325.1 L1412.7 1325.3 L1414.7 1325.4 L1416.7 1325.6 L1418.7 1325.7 L1420.7 1325.9 L1422.7 1326.0 L1424.7 1326.1 L1426.7 1326.3 L1428.7 1326.4 L1430.7 1326.5 L1432.7 1326.7 L1434.7 1326.8 L1436.7 1326.9 L1438.7 1327.1 L1440.7 1327.2 L1442.7 1327.3 L1444.7 1327.5 L1446.7 1327.6 L1448.7 1327.7 L1450.7 1327.8 L1452.7 1327.9 L1454.7 1328.1 L1456.7 1328.2 L1458.7 1328.3 L1460.7 1328.4 L1462.7 1328.5 L1464.7 1328.6 L1466.7 1328.8 L1468.7 1328.9 L1470.7 1329.0 L1472.7 1329.1 L1474.7 1329.2 L1476.7 1329.3 L1478.7 1329.4 L1480.7 1329.5 L1482.7 1329.6 L1484.7 1329.7 L1486.7 1329.8 L1488.7 1329.9 L1490.7 1330.0 L1492.7 1330.1 L1494.7 1330.2 L1496.7 1330.3 L1498.7 1330.4 L1500.7 1330.5 L1502.7 1330.6 L1504.7 1330.7 L1506.7 1330.8 L1508.7 1330.9 L1510.7 1330.9 L1512.7 1331.0 L1514.7 1331.1 L1516.7 1331.2 L1518.7 1331.3 L1520.7 1331.4 L1522.7 1331.5 L1524.7 1331.5 L1526.7 1331.6 L1528.7 1331.7 L1530.7 1331.8 L1532.7 1331.8 L1534.7 1331.9 L1536.7 1332.0 L1538.7 1332.1 L1540.7 1332.1 L1542.7 1332.2 L1544.7 1332.3 L1546.7 1332.4 L1548.7 1332.4 L1550.7 1332.5 L1552.7 1332.6 L1554.7 1332.6 L1556.7 1332.7 L1558.7 1332.8 L1560.7 1332.8 L1562.7 1332.9 L1564.7 1332.9 L1566.7 1333.0 L1568.7 1333.1 L1570.7 1333.1 L1572.7 1333.2 L1574.7 1333.2 L1576.7 1333.3 L1578.7 1333.4 L1580.7 1333.4 L1582.7 1333.5 L1584.7 1333.5 L1586.7 1333.6 L1588.7 1333.6 L1590.7 1333.7 L1592.7 1333.7 L1594.7 1333.8 L1596.7 1333.8 L1598.7 1333.9 L1600.7 1333.9 L1602.7 1334.0 L1604.7 1334.0 L1606.7 1334.1 L1608.7 1334.1 L1610.7 1334.2 L1612.7 1334.2 L1614.7 1334.2 L1616.7 1334.3 L1618.7 1334.3 L1620.7 1334.4 L1622.7 1334.4 L1624.7 1334.4 L1626.7 1334.5 L1628.7 1334.5 L1630.7 1334.6 L1632.7 1334.6 L1634.7 1334.6 L1636.7 1334.7 L1638.7 1334.7 L1640.7 1334.7 L1642.7 1334.8 L1644.7 1334.8 L1646.7 1334.8 L1648.7 1334.9 L1650.7 1334.9 L1652.7 1334.9 L1654.7 1335.0 L1656.7 1335.0 L1658.7 1335.0 L1660.7 1335.0 L1662.7 1335.1 L1664.7 1335.1 L1666.7 1335.1 L1668.7 1335.2 L1670.7 1335.2 L1672.7 1335.2 L1674.7 1335.2 L1676.7 1335.3 L1678.7 1335.3 L1680.7 1335.3 L1682.7 1335.3 L1684.7 1335.4 L1686.7 1335.4 L1688.7 1335.4 L1690.7 1335.4 L1692.7 1335.4 L1694.7 1335.5 L1696.7 1335.5 L1698.7 1335.5 L1700.7 1335.5 L1702.7 1335.5 L1704.7 1335.6 L1706.7 1335.6 L1708.7 1335.6 L1710.7 1335.6 L1712.7 1335.6 L1714.7 1335.7 L1716.7 1335.7 L1718.7 1335.7 L1720.7 1335.7 L1722.7 1335.7 L1724.7 1335.7 L1726.7 1335.7 L1728.7 1335.8 L1730.7 1335.8 L1732.7 1335.8 L1734.7 1335.8 L1736.7 1335.8 L1738.7 1335.8 L1740.7 1335.8 L1742.7 1335.9 L1744.7 1335.9 L1746.7 1335.9 L1748.7 1335.9 L1750.7 1335.9 L1752.7 1335.9 L1754.7 1335.9 L1756.7 1335.9 L1758.7 1336.0 L1760.7 1336.0 L1762.7 1336.0 L1764.7 1336.0 L1766.7 1336.0 L1768.7 1336.0 L1770.7 1336.0 L1772.7 1336.0 L1774.7 1336.0 L1776.7 1336.0 L1778.7 1336.1 L1780.7 1336.1 L1782.7 1336.1 L1784.7 1336.1 L1786.7 1336.1 L1788.7 1336.1 L1790.7 1336.1 L1792.7 1336.1 L1794.7 1336.1 L1796.7 1336.1 L1798.7 1336.1 L1800.7 1336.2 L1802.7 1336.2 L1804.7 1336.2 L1806.7 1336.2 L1808.7 1336.2 L1810.7 1336.2 L1812.7 1336.2 L1814.7 1336.2 L1816.7 1336.2 L1818.7 1336.2 L1820.7 1336.2 L1822.7 1336.3 L1824.7 1336.3 L1826.7 1336.3 L1828.7 1336.3 L1830.7 1336.3 L1832.7 1336.3 L1834.7 1336.3 L1836.7 1336.3 L1838.7 1336.3 L1840.7 1336.3 L1842.7 1336.3 L1844.7 1336.4 L1846.7 1336.4 L1848.7 1336.4 L1850.7 1336.4 L1852.7 1336.4 L1854.7 1336.4 L1856.7 1336.4 L1858.7 1336.4 L1860.7 1336.4 L1862.7 1336.4 L1864.7 1336.5 L1866.7 1336.5 L1868.7 1336.5 L1870.7 1336.5 L1872.7 1336.5 L1874.7 1336.5 L1876.7 1336.5 L1878.7 1336.5 L1880.7 1336.5 L1882.7 1336.6 L1884.7 1336.6 L1886.7 1336.6 L1888.7 1336.6 L1890.7 1336.6 L1892.7 1336.6 L1894.7 1336.6 L1896.7 1336.7 L1898.7 1336.7 L1900.7 1336.7 L1902.7 1336.7 L1904.7 1336.7 L1906.7 1336.7 L1908.7 1336.7 L1910.7 1336.8 L1912.7 1336.8 L1914.7 1336.8 L1916.7 1336.8 L1918.7 1336.8 L1920.7 1336.9 L1922.7 1336.9 L1924.7 1336.9 L1926.7 1336.9 L1928.7 1336.9 L1930.7 1337.0 L1932.7 1337.0 L1934.7 1337.0 L1936.7 1337.0 L1938.7 1337.0 L1940.7 1337.1 L1942.7 1337.1 L1944.7 1337.1 L1946.7 1337.1 L1948.7 1337.2 L1950.7 1337.2 L1952.7 1337.2 L1954.7 1337.2 L1956.7 1337.3 L1958.7 1337.3 L1960.7 1337.3 L1962.7 1337.3 L1964.7 1337.4 L1966.7 1337.4 L1968.7 1337.4 L1970.7 1337.5 L1972.7 1337.5 L1974.7 1337.5 L1976.7 1337.5 L1978.7 1337.6 L1980.7 1337.6 L1982.7 1337.6 L1984.7 1337.7 L1986.7 1337.7 L1988.7 1337.7 L1990.7 1337.8 L1992.7 1337.8 L1994.7 1337.9 L1996.7 1337.9 L1998.7 1337.9 L2000.7 1338.0 L2002.7 1338.0 L2004.7 1338.1 L2006.7 1338.1 L2008.7 1338.1 L2010.7 1338.2 L2012.7 1338.2 L2014.7 1338.3 L2016.7 1338.3 L2018.7 1338.3 L2020.7 1338.4 L2022.7 1338.4 L2024.7 1338.5 L2026.7 1338.5 L2028.7 1338.6 L2030.7 1338.6 L2032.7 1338.7 L2034.7 1338.7 L2036.7 1338.8 L2037.9 1338.8"/>
</g>
<g stroke-width="10" stroke-linecap="round">
<line x1="1443" y1="107.6" x2="1598" y2="107.6" stroke="#000000"/>
<line x1="1443" y1="193.2" x2="1598" y2="193.2" stroke="#ff0000"/>
<line x1="1443" y1="278.9" x2="1598" y2="278.9" stroke="#0000ff"/>
<line x1="1443" y1="364.6" x2="1598" y2="364.6" stroke="#ff00ff"/>
<line x1="1443" y1="450.2" x2="1598" y2="450.2" stroke="#008000"/>
<line x1="1443" y1="535.9" x2="1598" y2="535.9" stroke="#ff8000"/>
<line x1="1443" y1="621.5" x2="1598" y2="621.5" stroke="#9000ff"/>
</g>
<g font-size="69.8">
<text x="1617" y="131.1">1 (solid state)</text>
<text x="1617" y="216.8">1 + Ethanol</text>
<text x="1617" y="302.4">1 + Acetonitrile</text>
<text x="1617" y="388.1">1 + DMAC</text>
<text x="1617" y="473.7">1 + DMF</text>
<text x="1617" y="559.4">1 + Methanol</text>
<text x="1617" y="645.0">1 + Water</text>
</g>
<g font-size="57.4" text-anchor="end">
<text x="305.5" y="1358.1">0</text>
<text x="305.5" y="1143.9">500</text>
<text x="305.5" y="929.8">1000</text>
<text x="305.5" y="715.6">1500</text>
<text x="305.5" y="501.4">2000</text>
<text x="305.5" y="287.3">2500</text>
<text x="305.5" y="73.1">3000</text>
</g>
<g font-size="57.4" text-anchor="middle">
<text x="348.1" y="1430.8">350</text>
<text x="639.4" y="1430.8">400</text>
<text x="930.7" y="1430.8">450</text>
<text x="1222.1" y="1430.8">500</text>
<text x="1513.4" y="1430.8">550</text>
<text x="1804.7" y="1430.8">600</text>
<text x="2096.0" y="1430.8">650</text>
</g>
<text x="1223.5" y="1540.6" font-size="69.8" text-anchor="middle">Wavelength / nm</text>
<text transform="translate(73.2 701.5) rotate(-90)" font-size="69.8" text-anchor="middle">Intensity / a.u.</text>
</svg></body></html>
